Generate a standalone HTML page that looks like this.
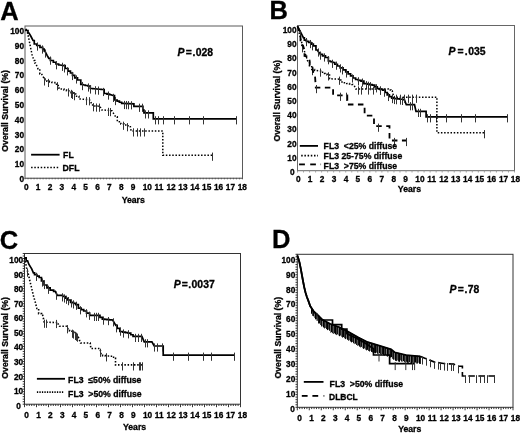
<!DOCTYPE html>
<html><head><meta charset="utf-8"><style>
html,body{margin:0;padding:0;background:#fff;overflow:hidden;}
svg{display:block;font-family:"Liberation Sans", sans-serif;filter:blur(0.3px);}
text{stroke:#000;stroke-width:0.3px;}
</style></head><body>
<svg width="520" height="433" viewBox="0 0 520 433" fill="#000">
<rect width="520" height="433" fill="#fff"/>
<text x="0.20" y="19.50" font-size="25.5" text-anchor="start" font-weight="bold" font-style="normal" >A</text>
<rect x="25" y="26" width="217.5" height="152.3" fill="none" stroke="#5a5a5a" stroke-width="1"/>
<text x="24.00" y="181.92" font-size="8.3" text-anchor="end" font-weight="bold" font-style="normal" >0</text>
<text x="24.00" y="167.12" font-size="8.3" text-anchor="end" font-weight="bold" font-style="normal" >10</text>
<text x="24.00" y="152.32" font-size="8.3" text-anchor="end" font-weight="bold" font-style="normal" >20</text>
<text x="24.00" y="137.52" font-size="8.3" text-anchor="end" font-weight="bold" font-style="normal" >30</text>
<text x="24.00" y="122.72" font-size="8.3" text-anchor="end" font-weight="bold" font-style="normal" >40</text>
<text x="24.00" y="107.92" font-size="8.3" text-anchor="end" font-weight="bold" font-style="normal" >50</text>
<text x="24.00" y="93.12" font-size="8.3" text-anchor="end" font-weight="bold" font-style="normal" >60</text>
<text x="24.00" y="78.32" font-size="8.3" text-anchor="end" font-weight="bold" font-style="normal" >70</text>
<text x="24.00" y="63.52" font-size="8.3" text-anchor="end" font-weight="bold" font-style="normal" >80</text>
<text x="24.00" y="48.72" font-size="8.3" text-anchor="end" font-weight="bold" font-style="normal" >90</text>
<text x="24.00" y="33.92" font-size="8.3" text-anchor="end" font-weight="bold" font-style="normal" >100</text>
<text x="23.90" y="189.82" font-size="8.3" text-anchor="start" font-weight="bold" font-style="normal" >0</text>
<text x="35.78" y="189.82" font-size="8.3" text-anchor="start" font-weight="bold" font-style="normal" >1</text>
<text x="47.66" y="189.82" font-size="8.3" text-anchor="start" font-weight="bold" font-style="normal" >2</text>
<text x="59.54" y="189.82" font-size="8.3" text-anchor="start" font-weight="bold" font-style="normal" >3</text>
<text x="71.42" y="189.82" font-size="8.3" text-anchor="start" font-weight="bold" font-style="normal" >4</text>
<text x="83.30" y="189.82" font-size="8.3" text-anchor="start" font-weight="bold" font-style="normal" >5</text>
<text x="95.18" y="189.82" font-size="8.3" text-anchor="start" font-weight="bold" font-style="normal" >6</text>
<text x="107.06" y="189.82" font-size="8.3" text-anchor="start" font-weight="bold" font-style="normal" >7</text>
<text x="118.94" y="189.82" font-size="8.3" text-anchor="start" font-weight="bold" font-style="normal" >8</text>
<text x="130.82" y="189.82" font-size="8.3" text-anchor="start" font-weight="bold" font-style="normal" >9</text>
<text x="142.70" y="189.82" font-size="8.3" text-anchor="start" font-weight="bold" font-style="normal" >10</text>
<text x="154.58" y="189.82" font-size="8.3" text-anchor="start" font-weight="bold" font-style="normal" >11</text>
<text x="166.46" y="189.82" font-size="8.3" text-anchor="start" font-weight="bold" font-style="normal" >12</text>
<text x="178.34" y="189.82" font-size="8.3" text-anchor="start" font-weight="bold" font-style="normal" >13</text>
<text x="190.22" y="189.82" font-size="8.3" text-anchor="start" font-weight="bold" font-style="normal" >14</text>
<text x="202.10" y="189.82" font-size="8.3" text-anchor="start" font-weight="bold" font-style="normal" >15</text>
<text x="213.98" y="189.82" font-size="8.3" text-anchor="start" font-weight="bold" font-style="normal" >16</text>
<text x="225.86" y="189.82" font-size="8.3" text-anchor="start" font-weight="bold" font-style="normal" >17</text>
<text x="237.74" y="189.82" font-size="8.3" text-anchor="start" font-weight="bold" font-style="normal" >18</text>
<line x1="25.00" y1="178.30" x2="242.50" y2="178.30" stroke="#777" stroke-width="1.0" />
<line x1="25.00" y1="177.90" x2="25.00" y2="179.30" stroke="#555" stroke-width="1.0" />
<line x1="28.02" y1="177.90" x2="28.02" y2="179.30" stroke="#555" stroke-width="1.0" />
<line x1="31.04" y1="177.90" x2="31.04" y2="179.30" stroke="#555" stroke-width="1.0" />
<line x1="34.06" y1="177.90" x2="34.06" y2="179.30" stroke="#555" stroke-width="1.0" />
<line x1="37.08" y1="177.90" x2="37.08" y2="179.30" stroke="#555" stroke-width="1.0" />
<line x1="40.10" y1="177.90" x2="40.10" y2="179.30" stroke="#555" stroke-width="1.0" />
<line x1="43.12" y1="177.90" x2="43.12" y2="179.30" stroke="#555" stroke-width="1.0" />
<line x1="46.15" y1="177.90" x2="46.15" y2="179.30" stroke="#555" stroke-width="1.0" />
<line x1="49.17" y1="177.90" x2="49.17" y2="179.30" stroke="#555" stroke-width="1.0" />
<line x1="52.19" y1="177.90" x2="52.19" y2="179.30" stroke="#555" stroke-width="1.0" />
<line x1="55.21" y1="177.90" x2="55.21" y2="179.30" stroke="#555" stroke-width="1.0" />
<line x1="58.23" y1="177.90" x2="58.23" y2="179.30" stroke="#555" stroke-width="1.0" />
<line x1="61.25" y1="177.90" x2="61.25" y2="179.30" stroke="#555" stroke-width="1.0" />
<line x1="64.27" y1="177.90" x2="64.27" y2="179.30" stroke="#555" stroke-width="1.0" />
<line x1="67.29" y1="177.90" x2="67.29" y2="179.30" stroke="#555" stroke-width="1.0" />
<line x1="70.31" y1="177.90" x2="70.31" y2="179.30" stroke="#555" stroke-width="1.0" />
<line x1="73.33" y1="177.90" x2="73.33" y2="179.30" stroke="#555" stroke-width="1.0" />
<line x1="76.35" y1="177.90" x2="76.35" y2="179.30" stroke="#555" stroke-width="1.0" />
<line x1="79.38" y1="177.90" x2="79.38" y2="179.30" stroke="#555" stroke-width="1.0" />
<line x1="82.40" y1="177.90" x2="82.40" y2="179.30" stroke="#555" stroke-width="1.0" />
<line x1="85.42" y1="177.90" x2="85.42" y2="179.30" stroke="#555" stroke-width="1.0" />
<line x1="88.44" y1="177.90" x2="88.44" y2="179.30" stroke="#555" stroke-width="1.0" />
<line x1="91.46" y1="177.90" x2="91.46" y2="179.30" stroke="#555" stroke-width="1.0" />
<line x1="94.48" y1="177.90" x2="94.48" y2="179.30" stroke="#555" stroke-width="1.0" />
<line x1="97.50" y1="177.90" x2="97.50" y2="179.30" stroke="#555" stroke-width="1.0" />
<line x1="100.52" y1="177.90" x2="100.52" y2="179.30" stroke="#555" stroke-width="1.0" />
<line x1="103.54" y1="177.90" x2="103.54" y2="179.30" stroke="#555" stroke-width="1.0" />
<line x1="106.56" y1="177.90" x2="106.56" y2="179.30" stroke="#555" stroke-width="1.0" />
<line x1="109.58" y1="177.90" x2="109.58" y2="179.30" stroke="#555" stroke-width="1.0" />
<line x1="112.60" y1="177.90" x2="112.60" y2="179.30" stroke="#555" stroke-width="1.0" />
<line x1="115.62" y1="177.90" x2="115.62" y2="179.30" stroke="#555" stroke-width="1.0" />
<line x1="118.65" y1="177.90" x2="118.65" y2="179.30" stroke="#555" stroke-width="1.0" />
<line x1="121.67" y1="177.90" x2="121.67" y2="179.30" stroke="#555" stroke-width="1.0" />
<line x1="124.69" y1="177.90" x2="124.69" y2="179.30" stroke="#555" stroke-width="1.0" />
<line x1="127.71" y1="177.90" x2="127.71" y2="179.30" stroke="#555" stroke-width="1.0" />
<line x1="130.73" y1="177.90" x2="130.73" y2="179.30" stroke="#555" stroke-width="1.0" />
<line x1="133.75" y1="177.90" x2="133.75" y2="179.30" stroke="#555" stroke-width="1.0" />
<line x1="136.77" y1="177.90" x2="136.77" y2="179.30" stroke="#555" stroke-width="1.0" />
<line x1="139.79" y1="177.90" x2="139.79" y2="179.30" stroke="#555" stroke-width="1.0" />
<line x1="142.81" y1="177.90" x2="142.81" y2="179.30" stroke="#555" stroke-width="1.0" />
<line x1="145.83" y1="177.90" x2="145.83" y2="179.30" stroke="#555" stroke-width="1.0" />
<line x1="148.85" y1="177.90" x2="148.85" y2="179.30" stroke="#555" stroke-width="1.0" />
<line x1="151.88" y1="177.90" x2="151.88" y2="179.30" stroke="#555" stroke-width="1.0" />
<line x1="154.90" y1="177.90" x2="154.90" y2="179.30" stroke="#555" stroke-width="1.0" />
<line x1="157.92" y1="177.90" x2="157.92" y2="179.30" stroke="#555" stroke-width="1.0" />
<line x1="160.94" y1="177.90" x2="160.94" y2="179.30" stroke="#555" stroke-width="1.0" />
<line x1="163.96" y1="177.90" x2="163.96" y2="179.30" stroke="#555" stroke-width="1.0" />
<line x1="166.98" y1="177.90" x2="166.98" y2="179.30" stroke="#555" stroke-width="1.0" />
<line x1="170.00" y1="177.90" x2="170.00" y2="179.30" stroke="#555" stroke-width="1.0" />
<line x1="173.02" y1="177.90" x2="173.02" y2="179.30" stroke="#555" stroke-width="1.0" />
<line x1="176.04" y1="177.90" x2="176.04" y2="179.30" stroke="#555" stroke-width="1.0" />
<line x1="179.06" y1="177.90" x2="179.06" y2="179.30" stroke="#555" stroke-width="1.0" />
<line x1="182.08" y1="177.90" x2="182.08" y2="179.30" stroke="#555" stroke-width="1.0" />
<line x1="185.10" y1="177.90" x2="185.10" y2="179.30" stroke="#555" stroke-width="1.0" />
<line x1="188.12" y1="177.90" x2="188.12" y2="179.30" stroke="#555" stroke-width="1.0" />
<line x1="191.15" y1="177.90" x2="191.15" y2="179.30" stroke="#555" stroke-width="1.0" />
<line x1="194.17" y1="177.90" x2="194.17" y2="179.30" stroke="#555" stroke-width="1.0" />
<line x1="197.19" y1="177.90" x2="197.19" y2="179.30" stroke="#555" stroke-width="1.0" />
<line x1="200.21" y1="177.90" x2="200.21" y2="179.30" stroke="#555" stroke-width="1.0" />
<line x1="203.23" y1="177.90" x2="203.23" y2="179.30" stroke="#555" stroke-width="1.0" />
<line x1="206.25" y1="177.90" x2="206.25" y2="179.30" stroke="#555" stroke-width="1.0" />
<line x1="209.27" y1="177.90" x2="209.27" y2="179.30" stroke="#555" stroke-width="1.0" />
<line x1="212.29" y1="177.90" x2="212.29" y2="179.30" stroke="#555" stroke-width="1.0" />
<line x1="215.31" y1="177.90" x2="215.31" y2="179.30" stroke="#555" stroke-width="1.0" />
<line x1="218.33" y1="177.90" x2="218.33" y2="179.30" stroke="#555" stroke-width="1.0" />
<line x1="221.35" y1="177.90" x2="221.35" y2="179.30" stroke="#555" stroke-width="1.0" />
<line x1="224.38" y1="177.90" x2="224.38" y2="179.30" stroke="#555" stroke-width="1.0" />
<line x1="227.40" y1="177.90" x2="227.40" y2="179.30" stroke="#555" stroke-width="1.0" />
<line x1="230.42" y1="177.90" x2="230.42" y2="179.30" stroke="#555" stroke-width="1.0" />
<line x1="233.44" y1="177.90" x2="233.44" y2="179.30" stroke="#555" stroke-width="1.0" />
<line x1="236.46" y1="177.90" x2="236.46" y2="179.30" stroke="#555" stroke-width="1.0" />
<line x1="239.48" y1="177.90" x2="239.48" y2="179.30" stroke="#555" stroke-width="1.0" />
<line x1="242.50" y1="177.90" x2="242.50" y2="179.30" stroke="#555" stroke-width="1.0" />
<text x="121.63" y="203.20" font-size="8.7" text-anchor="start" font-weight="bold" font-style="normal" >Years</text>
<text x="0" y="0" font-size="8.7" font-weight="bold" text-anchor="middle" transform="translate(8.00,110.90) rotate(-90)">Overall Survival (%)</text>
<text x="177.60" y="55.90" font-size="10.4" font-weight="bold"><tspan font-style="italic">P</tspan><tspan dx="1.3">=</tspan><tspan dx="0.5">.</tspan><tspan dx="0.5">028</tspan></text>
<text x="269.50" y="19.20" font-size="25.5" text-anchor="start" font-weight="bold" font-style="normal" >B</text>
<rect x="297.5" y="25.5" width="217.0" height="145.2" fill="none" stroke="#666" stroke-width="1"/>
<text x="294.50" y="175.12" font-size="8.3" text-anchor="end" font-weight="bold" font-style="normal" >0</text>
<text x="296.60" y="160.91" font-size="8.3" text-anchor="end" font-weight="bold" font-style="normal" >10</text>
<text x="296.60" y="146.70" font-size="8.3" text-anchor="end" font-weight="bold" font-style="normal" >20</text>
<text x="296.60" y="132.49" font-size="8.3" text-anchor="end" font-weight="bold" font-style="normal" >30</text>
<text x="296.60" y="118.28" font-size="8.3" text-anchor="end" font-weight="bold" font-style="normal" >40</text>
<text x="296.60" y="104.07" font-size="8.3" text-anchor="end" font-weight="bold" font-style="normal" >50</text>
<text x="296.60" y="89.86" font-size="8.3" text-anchor="end" font-weight="bold" font-style="normal" >60</text>
<text x="296.60" y="75.65" font-size="8.3" text-anchor="end" font-weight="bold" font-style="normal" >70</text>
<text x="296.60" y="61.44" font-size="8.3" text-anchor="end" font-weight="bold" font-style="normal" >80</text>
<text x="296.60" y="47.23" font-size="8.3" text-anchor="end" font-weight="bold" font-style="normal" >90</text>
<text x="296.60" y="33.02" font-size="8.3" text-anchor="end" font-weight="bold" font-style="normal" >100</text>
<text x="295.90" y="182.32" font-size="8.3" text-anchor="start" font-weight="bold" font-style="normal" >0</text>
<text x="307.84" y="182.32" font-size="8.3" text-anchor="start" font-weight="bold" font-style="normal" >1</text>
<text x="319.78" y="182.32" font-size="8.3" text-anchor="start" font-weight="bold" font-style="normal" >2</text>
<text x="331.72" y="182.32" font-size="8.3" text-anchor="start" font-weight="bold" font-style="normal" >3</text>
<text x="343.66" y="182.32" font-size="8.3" text-anchor="start" font-weight="bold" font-style="normal" >4</text>
<text x="355.60" y="182.32" font-size="8.3" text-anchor="start" font-weight="bold" font-style="normal" >5</text>
<text x="367.54" y="182.32" font-size="8.3" text-anchor="start" font-weight="bold" font-style="normal" >6</text>
<text x="379.48" y="182.32" font-size="8.3" text-anchor="start" font-weight="bold" font-style="normal" >7</text>
<text x="391.42" y="182.32" font-size="8.3" text-anchor="start" font-weight="bold" font-style="normal" >8</text>
<text x="403.36" y="182.32" font-size="8.3" text-anchor="start" font-weight="bold" font-style="normal" >9</text>
<text x="415.30" y="182.32" font-size="8.3" text-anchor="start" font-weight="bold" font-style="normal" >10</text>
<text x="427.24" y="182.32" font-size="8.3" text-anchor="start" font-weight="bold" font-style="normal" >11</text>
<text x="439.18" y="182.32" font-size="8.3" text-anchor="start" font-weight="bold" font-style="normal" >12</text>
<text x="451.12" y="182.32" font-size="8.3" text-anchor="start" font-weight="bold" font-style="normal" >13</text>
<text x="463.06" y="182.32" font-size="8.3" text-anchor="start" font-weight="bold" font-style="normal" >14</text>
<text x="475.00" y="182.32" font-size="8.3" text-anchor="start" font-weight="bold" font-style="normal" >15</text>
<text x="486.94" y="182.32" font-size="8.3" text-anchor="start" font-weight="bold" font-style="normal" >16</text>
<text x="498.88" y="182.32" font-size="8.3" text-anchor="start" font-weight="bold" font-style="normal" >17</text>
<text x="510.82" y="182.32" font-size="8.3" text-anchor="start" font-weight="bold" font-style="normal" >18</text>
<line x1="297.50" y1="170.70" x2="297.50" y2="172.50" stroke="#999" stroke-width="0.9" />
<line x1="303.53" y1="170.70" x2="303.53" y2="172.50" stroke="#999" stroke-width="0.9" />
<line x1="309.56" y1="170.70" x2="309.56" y2="172.50" stroke="#999" stroke-width="0.9" />
<line x1="315.58" y1="170.70" x2="315.58" y2="172.50" stroke="#999" stroke-width="0.9" />
<line x1="321.61" y1="170.70" x2="321.61" y2="172.50" stroke="#999" stroke-width="0.9" />
<line x1="327.64" y1="170.70" x2="327.64" y2="172.50" stroke="#999" stroke-width="0.9" />
<line x1="333.67" y1="170.70" x2="333.67" y2="172.50" stroke="#999" stroke-width="0.9" />
<line x1="339.69" y1="170.70" x2="339.69" y2="172.50" stroke="#999" stroke-width="0.9" />
<line x1="345.72" y1="170.70" x2="345.72" y2="172.50" stroke="#999" stroke-width="0.9" />
<line x1="351.75" y1="170.70" x2="351.75" y2="172.50" stroke="#999" stroke-width="0.9" />
<line x1="357.78" y1="170.70" x2="357.78" y2="172.50" stroke="#999" stroke-width="0.9" />
<line x1="363.81" y1="170.70" x2="363.81" y2="172.50" stroke="#999" stroke-width="0.9" />
<line x1="369.83" y1="170.70" x2="369.83" y2="172.50" stroke="#999" stroke-width="0.9" />
<line x1="375.86" y1="170.70" x2="375.86" y2="172.50" stroke="#999" stroke-width="0.9" />
<line x1="381.89" y1="170.70" x2="381.89" y2="172.50" stroke="#999" stroke-width="0.9" />
<line x1="387.92" y1="170.70" x2="387.92" y2="172.50" stroke="#999" stroke-width="0.9" />
<line x1="393.94" y1="170.70" x2="393.94" y2="172.50" stroke="#999" stroke-width="0.9" />
<line x1="399.97" y1="170.70" x2="399.97" y2="172.50" stroke="#999" stroke-width="0.9" />
<line x1="406.00" y1="170.70" x2="406.00" y2="172.50" stroke="#999" stroke-width="0.9" />
<line x1="412.03" y1="170.70" x2="412.03" y2="172.50" stroke="#999" stroke-width="0.9" />
<line x1="418.06" y1="170.70" x2="418.06" y2="172.50" stroke="#999" stroke-width="0.9" />
<line x1="424.08" y1="170.70" x2="424.08" y2="172.50" stroke="#999" stroke-width="0.9" />
<line x1="430.11" y1="170.70" x2="430.11" y2="172.50" stroke="#999" stroke-width="0.9" />
<line x1="436.14" y1="170.70" x2="436.14" y2="172.50" stroke="#999" stroke-width="0.9" />
<line x1="442.17" y1="170.70" x2="442.17" y2="172.50" stroke="#999" stroke-width="0.9" />
<line x1="448.19" y1="170.70" x2="448.19" y2="172.50" stroke="#999" stroke-width="0.9" />
<line x1="454.22" y1="170.70" x2="454.22" y2="172.50" stroke="#999" stroke-width="0.9" />
<line x1="460.25" y1="170.70" x2="460.25" y2="172.50" stroke="#999" stroke-width="0.9" />
<line x1="466.28" y1="170.70" x2="466.28" y2="172.50" stroke="#999" stroke-width="0.9" />
<line x1="472.31" y1="170.70" x2="472.31" y2="172.50" stroke="#999" stroke-width="0.9" />
<line x1="478.33" y1="170.70" x2="478.33" y2="172.50" stroke="#999" stroke-width="0.9" />
<line x1="484.36" y1="170.70" x2="484.36" y2="172.50" stroke="#999" stroke-width="0.9" />
<line x1="490.39" y1="170.70" x2="490.39" y2="172.50" stroke="#999" stroke-width="0.9" />
<line x1="496.42" y1="170.70" x2="496.42" y2="172.50" stroke="#999" stroke-width="0.9" />
<line x1="502.44" y1="170.70" x2="502.44" y2="172.50" stroke="#999" stroke-width="0.9" />
<line x1="508.47" y1="170.70" x2="508.47" y2="172.50" stroke="#999" stroke-width="0.9" />
<line x1="514.50" y1="170.70" x2="514.50" y2="172.50" stroke="#999" stroke-width="0.9" />
<text x="397.83" y="191.90" font-size="8.7" text-anchor="start" font-weight="bold" font-style="normal" >Years</text>
<text x="0" y="0" font-size="8.7" font-weight="bold" text-anchor="middle" transform="translate(280.10,100.80) rotate(-90)">Overall Survival (%)</text>
<text x="448.60" y="54.60" font-size="10.4" font-weight="bold"><tspan font-style="italic">P</tspan><tspan dx="1.9">=</tspan><tspan dx="1.3">.</tspan><tspan dx="0.5">035</tspan></text>
<text x="-0.20" y="248.50" font-size="25.5" text-anchor="start" font-weight="bold" font-style="normal" >C</text>
<rect x="24.5" y="253.5" width="216.0" height="150.7" fill="none" stroke="#333" stroke-width="1"/>
<text x="20.90" y="408.72" font-size="8.3" text-anchor="end" font-weight="bold" font-style="normal" >0</text>
<text x="23.20" y="394.15" font-size="8.3" text-anchor="end" font-weight="bold" font-style="normal" >10</text>
<text x="23.20" y="379.58" font-size="8.3" text-anchor="end" font-weight="bold" font-style="normal" >20</text>
<text x="23.20" y="365.01" font-size="8.3" text-anchor="end" font-weight="bold" font-style="normal" >30</text>
<text x="23.20" y="350.44" font-size="8.3" text-anchor="end" font-weight="bold" font-style="normal" >40</text>
<text x="23.20" y="335.87" font-size="8.3" text-anchor="end" font-weight="bold" font-style="normal" >50</text>
<text x="23.20" y="321.30" font-size="8.3" text-anchor="end" font-weight="bold" font-style="normal" >60</text>
<text x="23.20" y="306.73" font-size="8.3" text-anchor="end" font-weight="bold" font-style="normal" >70</text>
<text x="23.20" y="292.16" font-size="8.3" text-anchor="end" font-weight="bold" font-style="normal" >80</text>
<text x="23.20" y="277.59" font-size="8.3" text-anchor="end" font-weight="bold" font-style="normal" >90</text>
<text x="23.20" y="263.02" font-size="8.3" text-anchor="end" font-weight="bold" font-style="normal" >100</text>
<text x="24.30" y="417.82" font-size="8.3" text-anchor="start" font-weight="bold" font-style="normal" >0</text>
<text x="36.16" y="417.82" font-size="8.3" text-anchor="start" font-weight="bold" font-style="normal" >1</text>
<text x="48.02" y="417.82" font-size="8.3" text-anchor="start" font-weight="bold" font-style="normal" >2</text>
<text x="59.88" y="417.82" font-size="8.3" text-anchor="start" font-weight="bold" font-style="normal" >3</text>
<text x="71.74" y="417.82" font-size="8.3" text-anchor="start" font-weight="bold" font-style="normal" >4</text>
<text x="83.60" y="417.82" font-size="8.3" text-anchor="start" font-weight="bold" font-style="normal" >5</text>
<text x="95.46" y="417.82" font-size="8.3" text-anchor="start" font-weight="bold" font-style="normal" >6</text>
<text x="107.32" y="417.82" font-size="8.3" text-anchor="start" font-weight="bold" font-style="normal" >7</text>
<text x="119.18" y="417.82" font-size="8.3" text-anchor="start" font-weight="bold" font-style="normal" >8</text>
<text x="131.04" y="417.82" font-size="8.3" text-anchor="start" font-weight="bold" font-style="normal" >9</text>
<text x="142.90" y="417.82" font-size="8.3" text-anchor="start" font-weight="bold" font-style="normal" >10</text>
<text x="154.76" y="417.82" font-size="8.3" text-anchor="start" font-weight="bold" font-style="normal" >11</text>
<text x="166.62" y="417.82" font-size="8.3" text-anchor="start" font-weight="bold" font-style="normal" >12</text>
<text x="178.48" y="417.82" font-size="8.3" text-anchor="start" font-weight="bold" font-style="normal" >13</text>
<text x="190.34" y="417.82" font-size="8.3" text-anchor="start" font-weight="bold" font-style="normal" >14</text>
<text x="202.20" y="417.82" font-size="8.3" text-anchor="start" font-weight="bold" font-style="normal" >15</text>
<text x="214.06" y="417.82" font-size="8.3" text-anchor="start" font-weight="bold" font-style="normal" >16</text>
<text x="225.92" y="417.82" font-size="8.3" text-anchor="start" font-weight="bold" font-style="normal" >17</text>
<text x="237.78" y="417.82" font-size="8.3" text-anchor="start" font-weight="bold" font-style="normal" >18</text>
<line x1="24.50" y1="404.20" x2="24.50" y2="407.20" stroke="#222" stroke-width="0.9" />
<line x1="26.90" y1="404.20" x2="26.90" y2="406.00" stroke="#222" stroke-width="0.9" />
<line x1="29.30" y1="404.20" x2="29.30" y2="406.00" stroke="#222" stroke-width="0.9" />
<line x1="31.70" y1="404.20" x2="31.70" y2="406.00" stroke="#222" stroke-width="0.9" />
<line x1="34.10" y1="404.20" x2="34.10" y2="406.00" stroke="#222" stroke-width="0.9" />
<line x1="36.50" y1="404.20" x2="36.50" y2="407.20" stroke="#222" stroke-width="0.9" />
<line x1="38.90" y1="404.20" x2="38.90" y2="406.00" stroke="#222" stroke-width="0.9" />
<line x1="41.30" y1="404.20" x2="41.30" y2="406.00" stroke="#222" stroke-width="0.9" />
<line x1="43.70" y1="404.20" x2="43.70" y2="406.00" stroke="#222" stroke-width="0.9" />
<line x1="46.10" y1="404.20" x2="46.10" y2="406.00" stroke="#222" stroke-width="0.9" />
<line x1="48.50" y1="404.20" x2="48.50" y2="407.20" stroke="#222" stroke-width="0.9" />
<line x1="50.90" y1="404.20" x2="50.90" y2="406.00" stroke="#222" stroke-width="0.9" />
<line x1="53.30" y1="404.20" x2="53.30" y2="406.00" stroke="#222" stroke-width="0.9" />
<line x1="55.70" y1="404.20" x2="55.70" y2="406.00" stroke="#222" stroke-width="0.9" />
<line x1="58.10" y1="404.20" x2="58.10" y2="406.00" stroke="#222" stroke-width="0.9" />
<line x1="60.50" y1="404.20" x2="60.50" y2="407.20" stroke="#222" stroke-width="0.9" />
<line x1="62.90" y1="404.20" x2="62.90" y2="406.00" stroke="#222" stroke-width="0.9" />
<line x1="65.30" y1="404.20" x2="65.30" y2="406.00" stroke="#222" stroke-width="0.9" />
<line x1="67.70" y1="404.20" x2="67.70" y2="406.00" stroke="#222" stroke-width="0.9" />
<line x1="70.10" y1="404.20" x2="70.10" y2="406.00" stroke="#222" stroke-width="0.9" />
<line x1="72.50" y1="404.20" x2="72.50" y2="407.20" stroke="#222" stroke-width="0.9" />
<line x1="74.90" y1="404.20" x2="74.90" y2="406.00" stroke="#222" stroke-width="0.9" />
<line x1="77.30" y1="404.20" x2="77.30" y2="406.00" stroke="#222" stroke-width="0.9" />
<line x1="79.70" y1="404.20" x2="79.70" y2="406.00" stroke="#222" stroke-width="0.9" />
<line x1="82.10" y1="404.20" x2="82.10" y2="406.00" stroke="#222" stroke-width="0.9" />
<line x1="84.50" y1="404.20" x2="84.50" y2="407.20" stroke="#222" stroke-width="0.9" />
<line x1="86.90" y1="404.20" x2="86.90" y2="406.00" stroke="#222" stroke-width="0.9" />
<line x1="89.30" y1="404.20" x2="89.30" y2="406.00" stroke="#222" stroke-width="0.9" />
<line x1="91.70" y1="404.20" x2="91.70" y2="406.00" stroke="#222" stroke-width="0.9" />
<line x1="94.10" y1="404.20" x2="94.10" y2="406.00" stroke="#222" stroke-width="0.9" />
<line x1="96.50" y1="404.20" x2="96.50" y2="407.20" stroke="#222" stroke-width="0.9" />
<line x1="98.90" y1="404.20" x2="98.90" y2="406.00" stroke="#222" stroke-width="0.9" />
<line x1="101.30" y1="404.20" x2="101.30" y2="406.00" stroke="#222" stroke-width="0.9" />
<line x1="103.70" y1="404.20" x2="103.70" y2="406.00" stroke="#222" stroke-width="0.9" />
<line x1="106.10" y1="404.20" x2="106.10" y2="406.00" stroke="#222" stroke-width="0.9" />
<line x1="108.50" y1="404.20" x2="108.50" y2="407.20" stroke="#222" stroke-width="0.9" />
<line x1="110.90" y1="404.20" x2="110.90" y2="406.00" stroke="#222" stroke-width="0.9" />
<line x1="113.30" y1="404.20" x2="113.30" y2="406.00" stroke="#222" stroke-width="0.9" />
<line x1="115.70" y1="404.20" x2="115.70" y2="406.00" stroke="#222" stroke-width="0.9" />
<line x1="118.10" y1="404.20" x2="118.10" y2="406.00" stroke="#222" stroke-width="0.9" />
<line x1="120.50" y1="404.20" x2="120.50" y2="407.20" stroke="#222" stroke-width="0.9" />
<line x1="122.90" y1="404.20" x2="122.90" y2="406.00" stroke="#222" stroke-width="0.9" />
<line x1="125.30" y1="404.20" x2="125.30" y2="406.00" stroke="#222" stroke-width="0.9" />
<line x1="127.70" y1="404.20" x2="127.70" y2="406.00" stroke="#222" stroke-width="0.9" />
<line x1="130.10" y1="404.20" x2="130.10" y2="406.00" stroke="#222" stroke-width="0.9" />
<line x1="132.50" y1="404.20" x2="132.50" y2="407.20" stroke="#222" stroke-width="0.9" />
<line x1="134.90" y1="404.20" x2="134.90" y2="406.00" stroke="#222" stroke-width="0.9" />
<line x1="137.30" y1="404.20" x2="137.30" y2="406.00" stroke="#222" stroke-width="0.9" />
<line x1="139.70" y1="404.20" x2="139.70" y2="406.00" stroke="#222" stroke-width="0.9" />
<line x1="142.10" y1="404.20" x2="142.10" y2="406.00" stroke="#222" stroke-width="0.9" />
<line x1="144.50" y1="404.20" x2="144.50" y2="407.20" stroke="#222" stroke-width="0.9" />
<line x1="146.90" y1="404.20" x2="146.90" y2="406.00" stroke="#222" stroke-width="0.9" />
<line x1="149.30" y1="404.20" x2="149.30" y2="406.00" stroke="#222" stroke-width="0.9" />
<line x1="151.70" y1="404.20" x2="151.70" y2="406.00" stroke="#222" stroke-width="0.9" />
<line x1="154.10" y1="404.20" x2="154.10" y2="406.00" stroke="#222" stroke-width="0.9" />
<line x1="156.50" y1="404.20" x2="156.50" y2="407.20" stroke="#222" stroke-width="0.9" />
<line x1="158.90" y1="404.20" x2="158.90" y2="406.00" stroke="#222" stroke-width="0.9" />
<line x1="161.30" y1="404.20" x2="161.30" y2="406.00" stroke="#222" stroke-width="0.9" />
<line x1="163.70" y1="404.20" x2="163.70" y2="406.00" stroke="#222" stroke-width="0.9" />
<line x1="166.10" y1="404.20" x2="166.10" y2="406.00" stroke="#222" stroke-width="0.9" />
<line x1="168.50" y1="404.20" x2="168.50" y2="407.20" stroke="#222" stroke-width="0.9" />
<line x1="170.90" y1="404.20" x2="170.90" y2="406.00" stroke="#222" stroke-width="0.9" />
<line x1="173.30" y1="404.20" x2="173.30" y2="406.00" stroke="#222" stroke-width="0.9" />
<line x1="175.70" y1="404.20" x2="175.70" y2="406.00" stroke="#222" stroke-width="0.9" />
<line x1="178.10" y1="404.20" x2="178.10" y2="406.00" stroke="#222" stroke-width="0.9" />
<line x1="180.50" y1="404.20" x2="180.50" y2="407.20" stroke="#222" stroke-width="0.9" />
<line x1="182.90" y1="404.20" x2="182.90" y2="406.00" stroke="#222" stroke-width="0.9" />
<line x1="185.30" y1="404.20" x2="185.30" y2="406.00" stroke="#222" stroke-width="0.9" />
<line x1="187.70" y1="404.20" x2="187.70" y2="406.00" stroke="#222" stroke-width="0.9" />
<line x1="190.10" y1="404.20" x2="190.10" y2="406.00" stroke="#222" stroke-width="0.9" />
<line x1="192.50" y1="404.20" x2="192.50" y2="407.20" stroke="#222" stroke-width="0.9" />
<line x1="194.90" y1="404.20" x2="194.90" y2="406.00" stroke="#222" stroke-width="0.9" />
<line x1="197.30" y1="404.20" x2="197.30" y2="406.00" stroke="#222" stroke-width="0.9" />
<line x1="199.70" y1="404.20" x2="199.70" y2="406.00" stroke="#222" stroke-width="0.9" />
<line x1="202.10" y1="404.20" x2="202.10" y2="406.00" stroke="#222" stroke-width="0.9" />
<line x1="204.50" y1="404.20" x2="204.50" y2="407.20" stroke="#222" stroke-width="0.9" />
<line x1="206.90" y1="404.20" x2="206.90" y2="406.00" stroke="#222" stroke-width="0.9" />
<line x1="209.30" y1="404.20" x2="209.30" y2="406.00" stroke="#222" stroke-width="0.9" />
<line x1="211.70" y1="404.20" x2="211.70" y2="406.00" stroke="#222" stroke-width="0.9" />
<line x1="214.10" y1="404.20" x2="214.10" y2="406.00" stroke="#222" stroke-width="0.9" />
<line x1="216.50" y1="404.20" x2="216.50" y2="407.20" stroke="#222" stroke-width="0.9" />
<line x1="218.90" y1="404.20" x2="218.90" y2="406.00" stroke="#222" stroke-width="0.9" />
<line x1="221.30" y1="404.20" x2="221.30" y2="406.00" stroke="#222" stroke-width="0.9" />
<line x1="223.70" y1="404.20" x2="223.70" y2="406.00" stroke="#222" stroke-width="0.9" />
<line x1="226.10" y1="404.20" x2="226.10" y2="406.00" stroke="#222" stroke-width="0.9" />
<line x1="228.50" y1="404.20" x2="228.50" y2="407.20" stroke="#222" stroke-width="0.9" />
<line x1="230.90" y1="404.20" x2="230.90" y2="406.00" stroke="#222" stroke-width="0.9" />
<line x1="233.30" y1="404.20" x2="233.30" y2="406.00" stroke="#222" stroke-width="0.9" />
<line x1="235.70" y1="404.20" x2="235.70" y2="406.00" stroke="#222" stroke-width="0.9" />
<line x1="238.10" y1="404.20" x2="238.10" y2="406.00" stroke="#222" stroke-width="0.9" />
<line x1="240.50" y1="404.20" x2="240.50" y2="407.20" stroke="#222" stroke-width="0.9" />
<line x1="22.70" y1="253.50" x2="24.50" y2="253.50" stroke="#222" stroke-width="0.9" />
<line x1="22.70" y1="256.01" x2="24.50" y2="256.01" stroke="#222" stroke-width="0.9" />
<line x1="22.70" y1="258.52" x2="24.50" y2="258.52" stroke="#222" stroke-width="0.9" />
<line x1="22.70" y1="261.04" x2="24.50" y2="261.04" stroke="#222" stroke-width="0.9" />
<line x1="22.70" y1="263.55" x2="24.50" y2="263.55" stroke="#222" stroke-width="0.9" />
<line x1="22.70" y1="266.06" x2="24.50" y2="266.06" stroke="#222" stroke-width="0.9" />
<line x1="22.70" y1="268.57" x2="24.50" y2="268.57" stroke="#222" stroke-width="0.9" />
<line x1="22.70" y1="271.08" x2="24.50" y2="271.08" stroke="#222" stroke-width="0.9" />
<line x1="22.70" y1="273.59" x2="24.50" y2="273.59" stroke="#222" stroke-width="0.9" />
<line x1="22.70" y1="276.11" x2="24.50" y2="276.11" stroke="#222" stroke-width="0.9" />
<line x1="22.70" y1="278.62" x2="24.50" y2="278.62" stroke="#222" stroke-width="0.9" />
<line x1="22.70" y1="281.13" x2="24.50" y2="281.13" stroke="#222" stroke-width="0.9" />
<line x1="22.70" y1="283.64" x2="24.50" y2="283.64" stroke="#222" stroke-width="0.9" />
<line x1="22.70" y1="286.15" x2="24.50" y2="286.15" stroke="#222" stroke-width="0.9" />
<line x1="22.70" y1="288.66" x2="24.50" y2="288.66" stroke="#222" stroke-width="0.9" />
<line x1="22.70" y1="291.18" x2="24.50" y2="291.18" stroke="#222" stroke-width="0.9" />
<line x1="22.70" y1="293.69" x2="24.50" y2="293.69" stroke="#222" stroke-width="0.9" />
<line x1="22.70" y1="296.20" x2="24.50" y2="296.20" stroke="#222" stroke-width="0.9" />
<line x1="22.70" y1="298.71" x2="24.50" y2="298.71" stroke="#222" stroke-width="0.9" />
<line x1="22.70" y1="301.22" x2="24.50" y2="301.22" stroke="#222" stroke-width="0.9" />
<line x1="22.70" y1="303.73" x2="24.50" y2="303.73" stroke="#222" stroke-width="0.9" />
<line x1="22.70" y1="306.25" x2="24.50" y2="306.25" stroke="#222" stroke-width="0.9" />
<line x1="22.70" y1="308.76" x2="24.50" y2="308.76" stroke="#222" stroke-width="0.9" />
<line x1="22.70" y1="311.27" x2="24.50" y2="311.27" stroke="#222" stroke-width="0.9" />
<line x1="22.70" y1="313.78" x2="24.50" y2="313.78" stroke="#222" stroke-width="0.9" />
<line x1="22.70" y1="316.29" x2="24.50" y2="316.29" stroke="#222" stroke-width="0.9" />
<line x1="22.70" y1="318.80" x2="24.50" y2="318.80" stroke="#222" stroke-width="0.9" />
<line x1="22.70" y1="321.31" x2="24.50" y2="321.31" stroke="#222" stroke-width="0.9" />
<line x1="22.70" y1="323.83" x2="24.50" y2="323.83" stroke="#222" stroke-width="0.9" />
<line x1="22.70" y1="326.34" x2="24.50" y2="326.34" stroke="#222" stroke-width="0.9" />
<line x1="22.70" y1="328.85" x2="24.50" y2="328.85" stroke="#222" stroke-width="0.9" />
<line x1="22.70" y1="331.36" x2="24.50" y2="331.36" stroke="#222" stroke-width="0.9" />
<line x1="22.70" y1="333.87" x2="24.50" y2="333.87" stroke="#222" stroke-width="0.9" />
<line x1="22.70" y1="336.38" x2="24.50" y2="336.38" stroke="#222" stroke-width="0.9" />
<line x1="22.70" y1="338.90" x2="24.50" y2="338.90" stroke="#222" stroke-width="0.9" />
<line x1="22.70" y1="341.41" x2="24.50" y2="341.41" stroke="#222" stroke-width="0.9" />
<line x1="22.70" y1="343.92" x2="24.50" y2="343.92" stroke="#222" stroke-width="0.9" />
<line x1="22.70" y1="346.43" x2="24.50" y2="346.43" stroke="#222" stroke-width="0.9" />
<line x1="22.70" y1="348.94" x2="24.50" y2="348.94" stroke="#222" stroke-width="0.9" />
<line x1="22.70" y1="351.45" x2="24.50" y2="351.45" stroke="#222" stroke-width="0.9" />
<line x1="22.70" y1="353.97" x2="24.50" y2="353.97" stroke="#222" stroke-width="0.9" />
<line x1="22.70" y1="356.48" x2="24.50" y2="356.48" stroke="#222" stroke-width="0.9" />
<line x1="22.70" y1="358.99" x2="24.50" y2="358.99" stroke="#222" stroke-width="0.9" />
<line x1="22.70" y1="361.50" x2="24.50" y2="361.50" stroke="#222" stroke-width="0.9" />
<line x1="22.70" y1="364.01" x2="24.50" y2="364.01" stroke="#222" stroke-width="0.9" />
<line x1="22.70" y1="366.52" x2="24.50" y2="366.52" stroke="#222" stroke-width="0.9" />
<line x1="22.70" y1="369.04" x2="24.50" y2="369.04" stroke="#222" stroke-width="0.9" />
<line x1="22.70" y1="371.55" x2="24.50" y2="371.55" stroke="#222" stroke-width="0.9" />
<line x1="22.70" y1="374.06" x2="24.50" y2="374.06" stroke="#222" stroke-width="0.9" />
<line x1="22.70" y1="376.57" x2="24.50" y2="376.57" stroke="#222" stroke-width="0.9" />
<line x1="22.70" y1="379.08" x2="24.50" y2="379.08" stroke="#222" stroke-width="0.9" />
<line x1="22.70" y1="381.59" x2="24.50" y2="381.59" stroke="#222" stroke-width="0.9" />
<line x1="22.70" y1="384.11" x2="24.50" y2="384.11" stroke="#222" stroke-width="0.9" />
<line x1="22.70" y1="386.62" x2="24.50" y2="386.62" stroke="#222" stroke-width="0.9" />
<line x1="22.70" y1="389.13" x2="24.50" y2="389.13" stroke="#222" stroke-width="0.9" />
<line x1="22.70" y1="391.64" x2="24.50" y2="391.64" stroke="#222" stroke-width="0.9" />
<line x1="22.70" y1="394.15" x2="24.50" y2="394.15" stroke="#222" stroke-width="0.9" />
<line x1="22.70" y1="396.66" x2="24.50" y2="396.66" stroke="#222" stroke-width="0.9" />
<line x1="22.70" y1="399.18" x2="24.50" y2="399.18" stroke="#222" stroke-width="0.9" />
<line x1="22.70" y1="401.69" x2="24.50" y2="401.69" stroke="#222" stroke-width="0.9" />
<line x1="22.70" y1="404.20" x2="24.50" y2="404.20" stroke="#222" stroke-width="0.9" />
<text x="122.93" y="429.90" font-size="8.7" text-anchor="start" font-weight="bold" font-style="normal" >Years</text>
<text x="0" y="0" font-size="8.7" font-weight="bold" text-anchor="middle" transform="translate(7.70,337.90) rotate(-90)">Overall Survival (%)</text>
<text x="173.70" y="287.50" font-size="10.4" font-weight="bold"><tspan font-style="italic">P</tspan><tspan dx="1.2">=</tspan><tspan dx="0.4">.</tspan><tspan dx="0.4">0037</tspan></text>
<text x="272.10" y="248.30" font-size="25.5" text-anchor="start" font-weight="bold" font-style="normal" >D</text>
<rect x="297.3" y="254.3" width="215.7" height="153.0" fill="none" stroke="#333" stroke-width="1"/>
<text x="294.80" y="411.72" font-size="8.3" text-anchor="end" font-weight="bold" font-style="normal" >0</text>
<text x="295.30" y="396.83" font-size="8.3" text-anchor="end" font-weight="bold" font-style="normal" >10</text>
<text x="295.30" y="381.94" font-size="8.3" text-anchor="end" font-weight="bold" font-style="normal" >20</text>
<text x="295.30" y="367.05" font-size="8.3" text-anchor="end" font-weight="bold" font-style="normal" >30</text>
<text x="295.30" y="352.16" font-size="8.3" text-anchor="end" font-weight="bold" font-style="normal" >40</text>
<text x="295.30" y="337.27" font-size="8.3" text-anchor="end" font-weight="bold" font-style="normal" >50</text>
<text x="295.30" y="322.38" font-size="8.3" text-anchor="end" font-weight="bold" font-style="normal" >60</text>
<text x="295.30" y="307.49" font-size="8.3" text-anchor="end" font-weight="bold" font-style="normal" >70</text>
<text x="295.30" y="292.60" font-size="8.3" text-anchor="end" font-weight="bold" font-style="normal" >80</text>
<text x="295.30" y="277.71" font-size="8.3" text-anchor="end" font-weight="bold" font-style="normal" >90</text>
<text x="295.30" y="262.82" font-size="8.3" text-anchor="end" font-weight="bold" font-style="normal" >100</text>
<text x="297.30" y="420.82" font-size="8.3" text-anchor="start" font-weight="bold" font-style="normal" >0</text>
<text x="309.16" y="420.82" font-size="8.3" text-anchor="start" font-weight="bold" font-style="normal" >1</text>
<text x="321.02" y="420.82" font-size="8.3" text-anchor="start" font-weight="bold" font-style="normal" >2</text>
<text x="332.88" y="420.82" font-size="8.3" text-anchor="start" font-weight="bold" font-style="normal" >3</text>
<text x="344.74" y="420.82" font-size="8.3" text-anchor="start" font-weight="bold" font-style="normal" >4</text>
<text x="356.60" y="420.82" font-size="8.3" text-anchor="start" font-weight="bold" font-style="normal" >5</text>
<text x="368.46" y="420.82" font-size="8.3" text-anchor="start" font-weight="bold" font-style="normal" >6</text>
<text x="380.32" y="420.82" font-size="8.3" text-anchor="start" font-weight="bold" font-style="normal" >7</text>
<text x="392.18" y="420.82" font-size="8.3" text-anchor="start" font-weight="bold" font-style="normal" >8</text>
<text x="404.04" y="420.82" font-size="8.3" text-anchor="start" font-weight="bold" font-style="normal" >9</text>
<text x="415.90" y="420.82" font-size="8.3" text-anchor="start" font-weight="bold" font-style="normal" >10</text>
<text x="427.76" y="420.82" font-size="8.3" text-anchor="start" font-weight="bold" font-style="normal" >11</text>
<text x="439.62" y="420.82" font-size="8.3" text-anchor="start" font-weight="bold" font-style="normal" >12</text>
<text x="451.48" y="420.82" font-size="8.3" text-anchor="start" font-weight="bold" font-style="normal" >13</text>
<text x="463.34" y="420.82" font-size="8.3" text-anchor="start" font-weight="bold" font-style="normal" >14</text>
<text x="475.20" y="420.82" font-size="8.3" text-anchor="start" font-weight="bold" font-style="normal" >15</text>
<text x="487.06" y="420.82" font-size="8.3" text-anchor="start" font-weight="bold" font-style="normal" >16</text>
<text x="498.92" y="420.82" font-size="8.3" text-anchor="start" font-weight="bold" font-style="normal" >17</text>
<text x="510.78" y="420.82" font-size="8.3" text-anchor="start" font-weight="bold" font-style="normal" >18</text>
<line x1="297.30" y1="407.30" x2="297.30" y2="410.30" stroke="#222" stroke-width="0.9" />
<line x1="299.70" y1="407.30" x2="299.70" y2="409.10" stroke="#222" stroke-width="0.9" />
<line x1="302.09" y1="407.30" x2="302.09" y2="409.10" stroke="#222" stroke-width="0.9" />
<line x1="304.49" y1="407.30" x2="304.49" y2="409.10" stroke="#222" stroke-width="0.9" />
<line x1="306.89" y1="407.30" x2="306.89" y2="409.10" stroke="#222" stroke-width="0.9" />
<line x1="309.28" y1="407.30" x2="309.28" y2="410.30" stroke="#222" stroke-width="0.9" />
<line x1="311.68" y1="407.30" x2="311.68" y2="409.10" stroke="#222" stroke-width="0.9" />
<line x1="314.08" y1="407.30" x2="314.08" y2="409.10" stroke="#222" stroke-width="0.9" />
<line x1="316.47" y1="407.30" x2="316.47" y2="409.10" stroke="#222" stroke-width="0.9" />
<line x1="318.87" y1="407.30" x2="318.87" y2="409.10" stroke="#222" stroke-width="0.9" />
<line x1="321.27" y1="407.30" x2="321.27" y2="410.30" stroke="#222" stroke-width="0.9" />
<line x1="323.66" y1="407.30" x2="323.66" y2="409.10" stroke="#222" stroke-width="0.9" />
<line x1="326.06" y1="407.30" x2="326.06" y2="409.10" stroke="#222" stroke-width="0.9" />
<line x1="328.46" y1="407.30" x2="328.46" y2="409.10" stroke="#222" stroke-width="0.9" />
<line x1="330.85" y1="407.30" x2="330.85" y2="409.10" stroke="#222" stroke-width="0.9" />
<line x1="333.25" y1="407.30" x2="333.25" y2="410.30" stroke="#222" stroke-width="0.9" />
<line x1="335.65" y1="407.30" x2="335.65" y2="409.10" stroke="#222" stroke-width="0.9" />
<line x1="338.04" y1="407.30" x2="338.04" y2="409.10" stroke="#222" stroke-width="0.9" />
<line x1="340.44" y1="407.30" x2="340.44" y2="409.10" stroke="#222" stroke-width="0.9" />
<line x1="342.84" y1="407.30" x2="342.84" y2="409.10" stroke="#222" stroke-width="0.9" />
<line x1="345.23" y1="407.30" x2="345.23" y2="410.30" stroke="#222" stroke-width="0.9" />
<line x1="347.63" y1="407.30" x2="347.63" y2="409.10" stroke="#222" stroke-width="0.9" />
<line x1="350.03" y1="407.30" x2="350.03" y2="409.10" stroke="#222" stroke-width="0.9" />
<line x1="352.42" y1="407.30" x2="352.42" y2="409.10" stroke="#222" stroke-width="0.9" />
<line x1="354.82" y1="407.30" x2="354.82" y2="409.10" stroke="#222" stroke-width="0.9" />
<line x1="357.22" y1="407.30" x2="357.22" y2="410.30" stroke="#222" stroke-width="0.9" />
<line x1="359.61" y1="407.30" x2="359.61" y2="409.10" stroke="#222" stroke-width="0.9" />
<line x1="362.01" y1="407.30" x2="362.01" y2="409.10" stroke="#222" stroke-width="0.9" />
<line x1="364.41" y1="407.30" x2="364.41" y2="409.10" stroke="#222" stroke-width="0.9" />
<line x1="366.80" y1="407.30" x2="366.80" y2="409.10" stroke="#222" stroke-width="0.9" />
<line x1="369.20" y1="407.30" x2="369.20" y2="410.30" stroke="#222" stroke-width="0.9" />
<line x1="371.60" y1="407.30" x2="371.60" y2="409.10" stroke="#222" stroke-width="0.9" />
<line x1="373.99" y1="407.30" x2="373.99" y2="409.10" stroke="#222" stroke-width="0.9" />
<line x1="376.39" y1="407.30" x2="376.39" y2="409.10" stroke="#222" stroke-width="0.9" />
<line x1="378.79" y1="407.30" x2="378.79" y2="409.10" stroke="#222" stroke-width="0.9" />
<line x1="381.18" y1="407.30" x2="381.18" y2="410.30" stroke="#222" stroke-width="0.9" />
<line x1="383.58" y1="407.30" x2="383.58" y2="409.10" stroke="#222" stroke-width="0.9" />
<line x1="385.98" y1="407.30" x2="385.98" y2="409.10" stroke="#222" stroke-width="0.9" />
<line x1="388.37" y1="407.30" x2="388.37" y2="409.10" stroke="#222" stroke-width="0.9" />
<line x1="390.77" y1="407.30" x2="390.77" y2="409.10" stroke="#222" stroke-width="0.9" />
<line x1="393.17" y1="407.30" x2="393.17" y2="410.30" stroke="#222" stroke-width="0.9" />
<line x1="395.56" y1="407.30" x2="395.56" y2="409.10" stroke="#222" stroke-width="0.9" />
<line x1="397.96" y1="407.30" x2="397.96" y2="409.10" stroke="#222" stroke-width="0.9" />
<line x1="400.36" y1="407.30" x2="400.36" y2="409.10" stroke="#222" stroke-width="0.9" />
<line x1="402.75" y1="407.30" x2="402.75" y2="409.10" stroke="#222" stroke-width="0.9" />
<line x1="405.15" y1="407.30" x2="405.15" y2="410.30" stroke="#222" stroke-width="0.9" />
<line x1="407.55" y1="407.30" x2="407.55" y2="409.10" stroke="#222" stroke-width="0.9" />
<line x1="409.94" y1="407.30" x2="409.94" y2="409.10" stroke="#222" stroke-width="0.9" />
<line x1="412.34" y1="407.30" x2="412.34" y2="409.10" stroke="#222" stroke-width="0.9" />
<line x1="414.74" y1="407.30" x2="414.74" y2="409.10" stroke="#222" stroke-width="0.9" />
<line x1="417.13" y1="407.30" x2="417.13" y2="410.30" stroke="#222" stroke-width="0.9" />
<line x1="419.53" y1="407.30" x2="419.53" y2="409.10" stroke="#222" stroke-width="0.9" />
<line x1="421.93" y1="407.30" x2="421.93" y2="409.10" stroke="#222" stroke-width="0.9" />
<line x1="424.32" y1="407.30" x2="424.32" y2="409.10" stroke="#222" stroke-width="0.9" />
<line x1="426.72" y1="407.30" x2="426.72" y2="409.10" stroke="#222" stroke-width="0.9" />
<line x1="429.12" y1="407.30" x2="429.12" y2="410.30" stroke="#222" stroke-width="0.9" />
<line x1="431.51" y1="407.30" x2="431.51" y2="409.10" stroke="#222" stroke-width="0.9" />
<line x1="433.91" y1="407.30" x2="433.91" y2="409.10" stroke="#222" stroke-width="0.9" />
<line x1="436.31" y1="407.30" x2="436.31" y2="409.10" stroke="#222" stroke-width="0.9" />
<line x1="438.70" y1="407.30" x2="438.70" y2="409.10" stroke="#222" stroke-width="0.9" />
<line x1="441.10" y1="407.30" x2="441.10" y2="410.30" stroke="#222" stroke-width="0.9" />
<line x1="443.50" y1="407.30" x2="443.50" y2="409.10" stroke="#222" stroke-width="0.9" />
<line x1="445.89" y1="407.30" x2="445.89" y2="409.10" stroke="#222" stroke-width="0.9" />
<line x1="448.29" y1="407.30" x2="448.29" y2="409.10" stroke="#222" stroke-width="0.9" />
<line x1="450.69" y1="407.30" x2="450.69" y2="409.10" stroke="#222" stroke-width="0.9" />
<line x1="453.08" y1="407.30" x2="453.08" y2="410.30" stroke="#222" stroke-width="0.9" />
<line x1="455.48" y1="407.30" x2="455.48" y2="409.10" stroke="#222" stroke-width="0.9" />
<line x1="457.88" y1="407.30" x2="457.88" y2="409.10" stroke="#222" stroke-width="0.9" />
<line x1="460.27" y1="407.30" x2="460.27" y2="409.10" stroke="#222" stroke-width="0.9" />
<line x1="462.67" y1="407.30" x2="462.67" y2="409.10" stroke="#222" stroke-width="0.9" />
<line x1="465.07" y1="407.30" x2="465.07" y2="410.30" stroke="#222" stroke-width="0.9" />
<line x1="467.46" y1="407.30" x2="467.46" y2="409.10" stroke="#222" stroke-width="0.9" />
<line x1="469.86" y1="407.30" x2="469.86" y2="409.10" stroke="#222" stroke-width="0.9" />
<line x1="472.26" y1="407.30" x2="472.26" y2="409.10" stroke="#222" stroke-width="0.9" />
<line x1="474.65" y1="407.30" x2="474.65" y2="409.10" stroke="#222" stroke-width="0.9" />
<line x1="477.05" y1="407.30" x2="477.05" y2="410.30" stroke="#222" stroke-width="0.9" />
<line x1="479.45" y1="407.30" x2="479.45" y2="409.10" stroke="#222" stroke-width="0.9" />
<line x1="481.84" y1="407.30" x2="481.84" y2="409.10" stroke="#222" stroke-width="0.9" />
<line x1="484.24" y1="407.30" x2="484.24" y2="409.10" stroke="#222" stroke-width="0.9" />
<line x1="486.64" y1="407.30" x2="486.64" y2="409.10" stroke="#222" stroke-width="0.9" />
<line x1="489.03" y1="407.30" x2="489.03" y2="410.30" stroke="#222" stroke-width="0.9" />
<line x1="491.43" y1="407.30" x2="491.43" y2="409.10" stroke="#222" stroke-width="0.9" />
<line x1="493.83" y1="407.30" x2="493.83" y2="409.10" stroke="#222" stroke-width="0.9" />
<line x1="496.22" y1="407.30" x2="496.22" y2="409.10" stroke="#222" stroke-width="0.9" />
<line x1="498.62" y1="407.30" x2="498.62" y2="409.10" stroke="#222" stroke-width="0.9" />
<line x1="501.02" y1="407.30" x2="501.02" y2="410.30" stroke="#222" stroke-width="0.9" />
<line x1="503.41" y1="407.30" x2="503.41" y2="409.10" stroke="#222" stroke-width="0.9" />
<line x1="505.81" y1="407.30" x2="505.81" y2="409.10" stroke="#222" stroke-width="0.9" />
<line x1="508.21" y1="407.30" x2="508.21" y2="409.10" stroke="#222" stroke-width="0.9" />
<line x1="510.60" y1="407.30" x2="510.60" y2="409.10" stroke="#222" stroke-width="0.9" />
<line x1="513.00" y1="407.30" x2="513.00" y2="410.30" stroke="#222" stroke-width="0.9" />
<line x1="295.50" y1="254.30" x2="297.30" y2="254.30" stroke="#222" stroke-width="0.9" />
<line x1="295.50" y1="256.85" x2="297.30" y2="256.85" stroke="#222" stroke-width="0.9" />
<line x1="295.50" y1="259.40" x2="297.30" y2="259.40" stroke="#222" stroke-width="0.9" />
<line x1="295.50" y1="261.95" x2="297.30" y2="261.95" stroke="#222" stroke-width="0.9" />
<line x1="295.50" y1="264.50" x2="297.30" y2="264.50" stroke="#222" stroke-width="0.9" />
<line x1="295.50" y1="267.05" x2="297.30" y2="267.05" stroke="#222" stroke-width="0.9" />
<line x1="295.50" y1="269.60" x2="297.30" y2="269.60" stroke="#222" stroke-width="0.9" />
<line x1="295.50" y1="272.15" x2="297.30" y2="272.15" stroke="#222" stroke-width="0.9" />
<line x1="295.50" y1="274.70" x2="297.30" y2="274.70" stroke="#222" stroke-width="0.9" />
<line x1="295.50" y1="277.25" x2="297.30" y2="277.25" stroke="#222" stroke-width="0.9" />
<line x1="295.50" y1="279.80" x2="297.30" y2="279.80" stroke="#222" stroke-width="0.9" />
<line x1="295.50" y1="282.35" x2="297.30" y2="282.35" stroke="#222" stroke-width="0.9" />
<line x1="295.50" y1="284.90" x2="297.30" y2="284.90" stroke="#222" stroke-width="0.9" />
<line x1="295.50" y1="287.45" x2="297.30" y2="287.45" stroke="#222" stroke-width="0.9" />
<line x1="295.50" y1="290.00" x2="297.30" y2="290.00" stroke="#222" stroke-width="0.9" />
<line x1="295.50" y1="292.55" x2="297.30" y2="292.55" stroke="#222" stroke-width="0.9" />
<line x1="295.50" y1="295.10" x2="297.30" y2="295.10" stroke="#222" stroke-width="0.9" />
<line x1="295.50" y1="297.65" x2="297.30" y2="297.65" stroke="#222" stroke-width="0.9" />
<line x1="295.50" y1="300.20" x2="297.30" y2="300.20" stroke="#222" stroke-width="0.9" />
<line x1="295.50" y1="302.75" x2="297.30" y2="302.75" stroke="#222" stroke-width="0.9" />
<line x1="295.50" y1="305.30" x2="297.30" y2="305.30" stroke="#222" stroke-width="0.9" />
<line x1="295.50" y1="307.85" x2="297.30" y2="307.85" stroke="#222" stroke-width="0.9" />
<line x1="295.50" y1="310.40" x2="297.30" y2="310.40" stroke="#222" stroke-width="0.9" />
<line x1="295.50" y1="312.95" x2="297.30" y2="312.95" stroke="#222" stroke-width="0.9" />
<line x1="295.50" y1="315.50" x2="297.30" y2="315.50" stroke="#222" stroke-width="0.9" />
<line x1="295.50" y1="318.05" x2="297.30" y2="318.05" stroke="#222" stroke-width="0.9" />
<line x1="295.50" y1="320.60" x2="297.30" y2="320.60" stroke="#222" stroke-width="0.9" />
<line x1="295.50" y1="323.15" x2="297.30" y2="323.15" stroke="#222" stroke-width="0.9" />
<line x1="295.50" y1="325.70" x2="297.30" y2="325.70" stroke="#222" stroke-width="0.9" />
<line x1="295.50" y1="328.25" x2="297.30" y2="328.25" stroke="#222" stroke-width="0.9" />
<line x1="295.50" y1="330.80" x2="297.30" y2="330.80" stroke="#222" stroke-width="0.9" />
<line x1="295.50" y1="333.35" x2="297.30" y2="333.35" stroke="#222" stroke-width="0.9" />
<line x1="295.50" y1="335.90" x2="297.30" y2="335.90" stroke="#222" stroke-width="0.9" />
<line x1="295.50" y1="338.45" x2="297.30" y2="338.45" stroke="#222" stroke-width="0.9" />
<line x1="295.50" y1="341.00" x2="297.30" y2="341.00" stroke="#222" stroke-width="0.9" />
<line x1="295.50" y1="343.55" x2="297.30" y2="343.55" stroke="#222" stroke-width="0.9" />
<line x1="295.50" y1="346.10" x2="297.30" y2="346.10" stroke="#222" stroke-width="0.9" />
<line x1="295.50" y1="348.65" x2="297.30" y2="348.65" stroke="#222" stroke-width="0.9" />
<line x1="295.50" y1="351.20" x2="297.30" y2="351.20" stroke="#222" stroke-width="0.9" />
<line x1="295.50" y1="353.75" x2="297.30" y2="353.75" stroke="#222" stroke-width="0.9" />
<line x1="295.50" y1="356.30" x2="297.30" y2="356.30" stroke="#222" stroke-width="0.9" />
<line x1="295.50" y1="358.85" x2="297.30" y2="358.85" stroke="#222" stroke-width="0.9" />
<line x1="295.50" y1="361.40" x2="297.30" y2="361.40" stroke="#222" stroke-width="0.9" />
<line x1="295.50" y1="363.95" x2="297.30" y2="363.95" stroke="#222" stroke-width="0.9" />
<line x1="295.50" y1="366.50" x2="297.30" y2="366.50" stroke="#222" stroke-width="0.9" />
<line x1="295.50" y1="369.05" x2="297.30" y2="369.05" stroke="#222" stroke-width="0.9" />
<line x1="295.50" y1="371.60" x2="297.30" y2="371.60" stroke="#222" stroke-width="0.9" />
<line x1="295.50" y1="374.15" x2="297.30" y2="374.15" stroke="#222" stroke-width="0.9" />
<line x1="295.50" y1="376.70" x2="297.30" y2="376.70" stroke="#222" stroke-width="0.9" />
<line x1="295.50" y1="379.25" x2="297.30" y2="379.25" stroke="#222" stroke-width="0.9" />
<line x1="295.50" y1="381.80" x2="297.30" y2="381.80" stroke="#222" stroke-width="0.9" />
<line x1="295.50" y1="384.35" x2="297.30" y2="384.35" stroke="#222" stroke-width="0.9" />
<line x1="295.50" y1="386.90" x2="297.30" y2="386.90" stroke="#222" stroke-width="0.9" />
<line x1="295.50" y1="389.45" x2="297.30" y2="389.45" stroke="#222" stroke-width="0.9" />
<line x1="295.50" y1="392.00" x2="297.30" y2="392.00" stroke="#222" stroke-width="0.9" />
<line x1="295.50" y1="394.55" x2="297.30" y2="394.55" stroke="#222" stroke-width="0.9" />
<line x1="295.50" y1="397.10" x2="297.30" y2="397.10" stroke="#222" stroke-width="0.9" />
<line x1="295.50" y1="399.65" x2="297.30" y2="399.65" stroke="#222" stroke-width="0.9" />
<line x1="295.50" y1="402.20" x2="297.30" y2="402.20" stroke="#222" stroke-width="0.9" />
<line x1="295.50" y1="404.75" x2="297.30" y2="404.75" stroke="#222" stroke-width="0.9" />
<line x1="295.50" y1="407.30" x2="297.30" y2="407.30" stroke="#222" stroke-width="0.9" />
<text x="398.13" y="432.10" font-size="8.7" text-anchor="start" font-weight="bold" font-style="normal" >Years</text>
<text x="0" y="0" font-size="8.7" font-weight="bold" text-anchor="middle" transform="translate(280.60,337.70) rotate(-90)">Overall Survival (%)</text>
<text x="449.60" y="292.50" font-size="10.4" font-weight="bold"><tspan font-style="italic">P</tspan><tspan dx="1.3">=</tspan><tspan dx="0.5">.</tspan><tspan dx="0.5">78</tspan></text>
<polyline points="25.50,29.50 26.25,29.50 26.25,30.50 27.00,30.50 28.00,30.50 28.00,33.00 29.00,33.00 31.00,36.50 33.00,40.50 34.25,40.50 34.25,44.00 35.50,44.00 36.75,44.00 36.75,45.50 38.00,45.50 39.95,45.50 39.95,47.40 41.90,47.40 42.70,47.40 42.70,49.00 43.50,49.00 44.15,49.00 44.15,50.80 44.80,50.80 47.10,55.40 48.80,58.30 50.40,58.30 50.40,60.50 52.00,60.50 53.33,60.50 53.33,62.25 55.97,62.25 55.97,64.00 57.30,64.00 58.65,64.00 58.65,65.00 60.00,65.00 63.80,65.60 65.15,65.60 65.15,68.50 66.50,68.50 67.95,68.50 67.95,71.20 69.40,71.20 70.45,71.20 70.45,73.00 71.50,73.00 72.50,73.00 72.50,75.30 73.50,75.30 74.75,75.30 74.75,77.80 76.00,77.80 77.50,77.80 77.50,80.00 79.00,80.00 80.80,80.00 80.80,84.40 82.60,84.40 84.00,85.00 85.25,85.00 85.25,85.50 87.75,85.50 87.75,86.00 89.00,86.00 90.25,86.00 90.25,88.50 91.50,88.50 92.88,88.50 92.88,88.75 95.62,88.75 95.62,89.00 98.38,89.00 98.38,89.25 101.12,89.25 101.12,89.50 102.50,89.50 104.15,89.50 104.15,93.50 105.80,93.50 107.00,93.50 107.00,94.10 109.40,94.10 109.40,94.70 110.60,94.70 113.00,95.50 114.50,95.50 114.50,100.00 116.00,100.00 117.13,100.00 117.13,101.13 119.40,101.13 119.40,102.27 121.67,102.27 121.67,103.40 122.80,103.40 133.90,103.90 133.90,106.30 142.90,106.30 142.90,110.10 143.95,110.10 143.95,112.90 145.00,112.90 153.30,112.90 153.30,118.80 236.30,118.80" fill="none" stroke="#000" stroke-width="1.7" />
<line x1="37.50" y1="42.48" x2="37.50" y2="50.68" stroke="#333" stroke-width="1.0" />
<line x1="42.50" y1="45.40" x2="42.50" y2="53.60" stroke="#333" stroke-width="1.0" />
<line x1="45.50" y1="49.40" x2="45.50" y2="57.60" stroke="#333" stroke-width="1.0" />
<line x1="50.50" y1="56.52" x2="50.50" y2="64.72" stroke="#333" stroke-width="1.0" />
<line x1="56.50" y1="61.14" x2="56.50" y2="69.34" stroke="#333" stroke-width="1.0" />
<line x1="62.50" y1="62.73" x2="62.50" y2="70.93" stroke="#333" stroke-width="1.0" />
<line x1="64.50" y1="64.29" x2="64.50" y2="72.49" stroke="#333" stroke-width="1.0" />
<line x1="67.50" y1="67.20" x2="67.50" y2="75.40" stroke="#333" stroke-width="1.0" />
<line x1="72.50" y1="71.89" x2="72.50" y2="80.09" stroke="#333" stroke-width="1.0" />
<line x1="76.50" y1="75.35" x2="76.50" y2="83.55" stroke="#333" stroke-width="1.0" />
<line x1="82.50" y1="81.97" x2="82.50" y2="90.17" stroke="#333" stroke-width="1.0" />
<line x1="88.50" y1="83.40" x2="88.50" y2="91.60" stroke="#333" stroke-width="1.0" />
<line x1="90.50" y1="85.40" x2="90.50" y2="93.60" stroke="#333" stroke-width="1.0" />
<line x1="95.50" y1="86.23" x2="95.50" y2="94.43" stroke="#333" stroke-width="1.0" />
<line x1="98.50" y1="86.52" x2="98.50" y2="94.72" stroke="#333" stroke-width="1.0" />
<line x1="103.50" y1="87.87" x2="103.50" y2="96.07" stroke="#333" stroke-width="1.0" />
<line x1="108.50" y1="91.48" x2="108.50" y2="99.67" stroke="#333" stroke-width="1.0" />
<line x1="113.50" y1="93.80" x2="113.50" y2="102.00" stroke="#333" stroke-width="1.0" />
<line x1="115.50" y1="96.95" x2="115.50" y2="105.15" stroke="#333" stroke-width="1.0" />
<line x1="124.50" y1="100.89" x2="124.50" y2="109.09" stroke="#333" stroke-width="1.0" />
<line x1="126.50" y1="100.98" x2="126.50" y2="109.18" stroke="#333" stroke-width="1.0" />
<line x1="128.50" y1="101.08" x2="128.50" y2="109.28" stroke="#333" stroke-width="1.0" />
<line x1="131.50" y1="101.21" x2="131.50" y2="109.41" stroke="#333" stroke-width="1.0" />
<line x1="139.50" y1="103.70" x2="139.50" y2="111.90" stroke="#333" stroke-width="1.0" />
<line x1="142.50" y1="103.70" x2="142.50" y2="111.90" stroke="#333" stroke-width="1.0" />
<line x1="145.50" y1="110.30" x2="145.50" y2="118.50" stroke="#333" stroke-width="1.0" />
<line x1="148.50" y1="110.30" x2="148.50" y2="118.50" stroke="#333" stroke-width="1.0" />
<line x1="155.50" y1="116.20" x2="155.50" y2="124.40" stroke="#333" stroke-width="1.0" />
<line x1="158.50" y1="116.20" x2="158.50" y2="124.40" stroke="#333" stroke-width="1.0" />
<line x1="163.50" y1="116.20" x2="163.50" y2="124.40" stroke="#333" stroke-width="1.0" />
<line x1="174.50" y1="116.20" x2="174.50" y2="124.40" stroke="#333" stroke-width="1.0" />
<line x1="189.50" y1="116.20" x2="189.50" y2="124.40" stroke="#333" stroke-width="1.0" />
<line x1="203.50" y1="116.20" x2="203.50" y2="124.40" stroke="#333" stroke-width="1.0" />
<line x1="236.50" y1="116.20" x2="236.50" y2="124.40" stroke="#333" stroke-width="1.0" />
<polyline points="25.50,29.50 27.50,33.00 28.60,37.50 30.40,46.80 32.10,54.90 34.00,60.60 34.75,60.60 34.75,63.00 35.50,63.00 38.10,69.00 39.80,69.00 39.80,73.90 41.50,73.90 44.40,79.00 45.00,79.00 45.00,80.80 45.60,80.80 46.85,80.80 46.85,81.37 49.35,81.37 49.35,81.93 51.85,81.93 51.85,82.50 53.10,82.50 54.85,82.50 54.85,84.20 56.60,84.20 58.30,84.20 58.30,88.10 60.00,88.10 61.33,88.10 61.33,89.10 63.97,89.10 63.97,90.10 65.30,90.10 66.47,90.10 66.47,90.80 68.83,90.80 68.83,91.50 70.00,91.50 71.03,91.50 71.03,92.80 73.07,92.80 73.07,94.10 74.10,94.10 75.75,94.10 75.75,96.20 77.40,96.20 79.00,96.20 79.00,99.00 80.60,99.00 89.50,99.80 91.90,104.20 92.60,104.20 92.60,106.00 93.30,106.00 100.00,106.20 101.60,109.90 106.00,110.20 112.00,110.80 115.70,116.80 117.30,116.80 117.30,121.70 118.90,121.70 120.85,121.70 120.85,124.00 122.80,124.00 124.07,124.00 124.07,124.90 126.60,124.90 126.60,125.80 129.13,125.80 129.13,126.70 130.40,126.70 131.10,130.90 162.80,131.00 162.80,155.20 212.10,155.20" fill="none" stroke="#000" stroke-width="1.5" stroke-dasharray="1.5 1.7"/>
<line x1="44.50" y1="77.30" x2="44.50" y2="85.50" stroke="#333" stroke-width="1.0" />
<line x1="48.50" y1="78.86" x2="48.50" y2="87.06" stroke="#333" stroke-width="1.0" />
<line x1="57.50" y1="82.17" x2="57.50" y2="90.37" stroke="#333" stroke-width="1.0" />
<line x1="68.50" y1="88.33" x2="68.50" y2="96.53" stroke="#333" stroke-width="1.0" />
<line x1="71.50" y1="89.85" x2="71.50" y2="98.05" stroke="#333" stroke-width="1.0" />
<line x1="72.50" y1="90.80" x2="72.50" y2="99.00" stroke="#333" stroke-width="1.0" />
<line x1="74.50" y1="92.07" x2="74.50" y2="100.27" stroke="#333" stroke-width="1.0" />
<line x1="86.50" y1="96.90" x2="86.50" y2="105.10" stroke="#333" stroke-width="1.0" />
<line x1="89.50" y1="97.20" x2="89.50" y2="105.40" stroke="#333" stroke-width="1.0" />
<line x1="93.50" y1="103.14" x2="93.50" y2="111.34" stroke="#333" stroke-width="1.0" />
<line x1="96.50" y1="103.49" x2="96.50" y2="111.69" stroke="#333" stroke-width="1.0" />
<line x1="99.50" y1="103.59" x2="99.50" y2="111.79" stroke="#333" stroke-width="1.0" />
<line x1="108.50" y1="107.80" x2="108.50" y2="116.00" stroke="#333" stroke-width="1.0" />
<line x1="110.50" y1="108.00" x2="110.50" y2="116.20" stroke="#333" stroke-width="1.0" />
<line x1="123.50" y1="121.65" x2="123.50" y2="129.85" stroke="#333" stroke-width="1.0" />
<line x1="127.50" y1="123.11" x2="127.50" y2="131.31" stroke="#333" stroke-width="1.0" />
<line x1="133.50" y1="128.31" x2="133.50" y2="136.51" stroke="#333" stroke-width="1.0" />
<line x1="137.50" y1="128.32" x2="137.50" y2="136.52" stroke="#333" stroke-width="1.0" />
<line x1="140.50" y1="128.33" x2="140.50" y2="136.53" stroke="#333" stroke-width="1.0" />
<line x1="144.50" y1="128.34" x2="144.50" y2="136.54" stroke="#333" stroke-width="1.0" />
<line x1="212.50" y1="152.60" x2="212.50" y2="160.80" stroke="#333" stroke-width="1.0" />
<polyline points="297.50,26.30 300.60,32.10 303.50,37.90 304.35,37.90 304.35,40.20 305.20,40.20 306.38,40.20 306.38,41.35 308.72,41.35 308.72,42.50 309.90,42.50 311.05,42.50 311.05,44.20 313.35,44.20 313.35,45.90 314.50,45.90 315.95,45.90 315.95,50.00 317.40,50.00 319.10,52.90 320.25,52.90 320.25,54.35 322.55,54.35 322.55,55.80 323.70,55.80 325.45,55.80 325.45,57.50 327.20,57.50 328.35,57.50 328.35,61.00 329.50,61.00 330.50,61.00 330.50,61.75 332.50,61.75 332.50,62.50 333.50,62.50 334.80,62.50 334.80,64.25 337.40,64.25 337.40,66.00 338.70,66.00 340.15,66.00 340.15,67.95 343.05,67.95 343.05,69.90 344.50,69.90 345.73,69.90 345.73,71.90 348.17,71.90 348.17,73.90 349.40,73.90 350.60,73.90 350.60,75.95 353.00,75.95 353.00,78.00 354.20,78.00 355.60,78.00 355.60,79.50 357.00,79.50 358.32,79.50 358.32,80.35 360.98,80.35 360.98,81.20 362.30,81.20 363.90,81.20 363.90,83.60 365.50,83.60 366.85,83.60 366.85,84.13 369.55,84.13 369.55,84.67 372.25,84.67 372.25,85.20 373.60,85.20 374.83,85.20 374.83,86.85 377.27,86.85 377.27,88.50 378.50,88.50 379.90,88.50 379.90,89.30 382.70,89.30 382.70,90.10 384.10,90.10 385.12,90.10 385.12,92.50 387.18,92.50 387.18,94.90 388.20,94.90 389.38,94.90 389.38,96.55 391.72,96.55 391.72,98.20 392.90,98.20 394.34,98.20 394.34,98.55 397.21,98.55 397.21,98.90 400.09,98.90 400.09,99.25 402.96,99.25 402.96,99.60 404.40,99.60 406.30,104.70 414.50,104.70 416.00,111.40 426.10,111.40 426.10,116.80 507.90,116.80" fill="none" stroke="#000" stroke-width="1.7" />
<line x1="300.50" y1="30.30" x2="300.50" y2="38.50" stroke="#333" stroke-width="1.0" />
<line x1="306.50" y1="37.99" x2="306.50" y2="46.19" stroke="#333" stroke-width="1.0" />
<line x1="310.50" y1="39.97" x2="310.50" y2="48.17" stroke="#333" stroke-width="1.0" />
<line x1="312.50" y1="42.19" x2="312.50" y2="50.39" stroke="#333" stroke-width="1.0" />
<line x1="318.50" y1="48.42" x2="318.50" y2="56.62" stroke="#333" stroke-width="1.0" />
<line x1="320.50" y1="51.50" x2="320.50" y2="59.70" stroke="#333" stroke-width="1.0" />
<line x1="324.50" y1="53.35" x2="324.50" y2="61.55" stroke="#333" stroke-width="1.0" />
<line x1="328.50" y1="56.12" x2="328.50" y2="64.32" stroke="#333" stroke-width="1.0" />
<line x1="332.50" y1="59.71" x2="332.50" y2="67.91" stroke="#333" stroke-width="1.0" />
<line x1="336.50" y1="61.58" x2="336.50" y2="69.78" stroke="#333" stroke-width="1.0" />
<line x1="340.50" y1="64.27" x2="340.50" y2="72.47" stroke="#333" stroke-width="1.0" />
<line x1="342.50" y1="66.29" x2="342.50" y2="74.49" stroke="#333" stroke-width="1.0" />
<line x1="346.50" y1="69.34" x2="346.50" y2="77.54" stroke="#333" stroke-width="1.0" />
<line x1="352.50" y1="74.38" x2="352.50" y2="82.58" stroke="#333" stroke-width="1.0" />
<line x1="358.50" y1="77.22" x2="358.50" y2="85.42" stroke="#333" stroke-width="1.0" />
<line x1="362.50" y1="78.50" x2="362.50" y2="86.70" stroke="#333" stroke-width="1.0" />
<line x1="366.50" y1="81.10" x2="366.50" y2="89.30" stroke="#333" stroke-width="1.0" />
<line x1="368.50" y1="81.69" x2="368.50" y2="89.89" stroke="#333" stroke-width="1.0" />
<line x1="370.50" y1="82.09" x2="370.50" y2="90.29" stroke="#333" stroke-width="1.0" />
<line x1="376.50" y1="84.22" x2="376.50" y2="92.42" stroke="#333" stroke-width="1.0" />
<line x1="380.50" y1="86.61" x2="380.50" y2="94.81" stroke="#333" stroke-width="1.0" />
<line x1="384.50" y1="88.55" x2="384.50" y2="96.75" stroke="#333" stroke-width="1.0" />
<line x1="388.50" y1="92.86" x2="388.50" y2="101.06" stroke="#333" stroke-width="1.0" />
<line x1="392.50" y1="94.97" x2="392.50" y2="103.17" stroke="#333" stroke-width="1.0" />
<line x1="394.50" y1="95.86" x2="394.50" y2="104.06" stroke="#333" stroke-width="1.0" />
<line x1="396.50" y1="96.10" x2="396.50" y2="104.30" stroke="#333" stroke-width="1.0" />
<line x1="400.50" y1="96.46" x2="400.50" y2="104.66" stroke="#333" stroke-width="1.0" />
<line x1="402.50" y1="96.83" x2="402.50" y2="105.03" stroke="#333" stroke-width="1.0" />
<line x1="410.50" y1="102.10" x2="410.50" y2="110.30" stroke="#333" stroke-width="1.0" />
<line x1="412.50" y1="102.10" x2="412.50" y2="110.30" stroke="#333" stroke-width="1.0" />
<line x1="418.50" y1="108.80" x2="418.50" y2="117.00" stroke="#333" stroke-width="1.0" />
<line x1="420.50" y1="108.80" x2="420.50" y2="117.00" stroke="#333" stroke-width="1.0" />
<line x1="427.50" y1="114.20" x2="427.50" y2="122.40" stroke="#333" stroke-width="1.0" />
<line x1="430.50" y1="114.20" x2="430.50" y2="122.40" stroke="#333" stroke-width="1.0" />
<line x1="436.50" y1="114.20" x2="436.50" y2="122.40" stroke="#333" stroke-width="1.0" />
<line x1="446.50" y1="114.20" x2="446.50" y2="122.40" stroke="#333" stroke-width="1.0" />
<line x1="461.50" y1="114.20" x2="461.50" y2="122.40" stroke="#333" stroke-width="1.0" />
<line x1="475.50" y1="114.20" x2="475.50" y2="122.40" stroke="#333" stroke-width="1.0" />
<line x1="507.50" y1="114.20" x2="507.50" y2="122.40" stroke="#333" stroke-width="1.0" />
<polyline points="297.50,26.30 300.90,39.70 303.30,47.80 305.70,55.10 308.10,62.40 309.45,62.40 309.45,66.70 310.80,66.70 311.75,66.70 311.75,69.60 312.70,69.60 314.60,69.60 314.60,70.60 316.50,70.60 320.90,71.10 322.55,71.10 322.55,73.50 324.20,73.50 325.18,73.50 325.18,74.20 327.12,74.20 327.12,74.90 328.10,74.90 329.55,74.90 329.55,78.80 331.00,78.80 339.60,79.20 340.80,79.20 340.80,82.10 342.00,82.10 343.57,82.10 343.57,82.85 346.73,82.85 346.73,83.60 348.30,83.60 349.50,83.60 349.50,84.05 351.90,84.05 351.90,84.50 353.10,84.50 354.30,85.70 355.80,89.00 387.00,89.00 388.32,89.00 388.32,90.00 390.98,90.00 390.98,91.00 392.30,91.00 393.80,97.30 436.90,97.20 436.90,132.70 484.20,132.70" fill="none" stroke="#000" stroke-width="1.5" stroke-dasharray="1.5 1.7"/>
<line x1="302.50" y1="44.19" x2="302.50" y2="52.39" stroke="#333" stroke-width="1.0" />
<line x1="312.50" y1="67.00" x2="312.50" y2="75.20" stroke="#333" stroke-width="1.0" />
<line x1="320.50" y1="68.50" x2="320.50" y2="76.70" stroke="#333" stroke-width="1.0" />
<line x1="328.50" y1="72.30" x2="328.50" y2="80.50" stroke="#333" stroke-width="1.0" />
<line x1="339.50" y1="76.60" x2="339.50" y2="84.80" stroke="#333" stroke-width="1.0" />
<line x1="358.50" y1="86.40" x2="358.50" y2="94.60" stroke="#333" stroke-width="1.0" />
<line x1="361.50" y1="86.40" x2="361.50" y2="94.60" stroke="#333" stroke-width="1.0" />
<line x1="368.50" y1="86.40" x2="368.50" y2="94.60" stroke="#333" stroke-width="1.0" />
<line x1="373.50" y1="86.40" x2="373.50" y2="94.60" stroke="#333" stroke-width="1.0" />
<line x1="380.50" y1="86.40" x2="380.50" y2="94.60" stroke="#333" stroke-width="1.0" />
<line x1="396.50" y1="94.69" x2="396.50" y2="102.89" stroke="#333" stroke-width="1.0" />
<line x1="400.50" y1="94.69" x2="400.50" y2="102.89" stroke="#333" stroke-width="1.0" />
<line x1="404.50" y1="94.67" x2="404.50" y2="102.87" stroke="#333" stroke-width="1.0" />
<line x1="408.50" y1="94.66" x2="408.50" y2="102.86" stroke="#333" stroke-width="1.0" />
<line x1="412.50" y1="94.66" x2="412.50" y2="102.86" stroke="#333" stroke-width="1.0" />
<line x1="416.50" y1="94.65" x2="416.50" y2="102.85" stroke="#333" stroke-width="1.0" />
<line x1="484.50" y1="130.10" x2="484.50" y2="138.30" stroke="#333" stroke-width="1.0" />
<polyline points="297.50,26.30 300.50,33.00 300.50,45.00 303.00,45.50 304.50,50.00 304.50,56.00 308.50,56.50 309.70,61.00 309.70,67.00 312.50,67.50 313.40,74.00 315.00,75.80 315.80,87.60 333.10,87.60 333.10,95.30 347.30,95.30 347.30,104.50 364.60,104.50 364.60,115.60 374.00,115.60 374.00,126.20 389.50,126.20 389.50,140.50 406.20,140.50" fill="none" stroke="#000" stroke-width="1.8" stroke-dasharray="5.5 4.5"/>
<line x1="316.50" y1="85.00" x2="316.50" y2="93.20" stroke="#333" stroke-width="1.0" />
<line x1="340.50" y1="92.70" x2="340.50" y2="100.90" stroke="#333" stroke-width="1.0" />
<line x1="346.50" y1="92.70" x2="346.50" y2="100.90" stroke="#333" stroke-width="1.0" />
<line x1="378.50" y1="123.60" x2="378.50" y2="131.80" stroke="#333" stroke-width="1.0" />
<line x1="394.50" y1="137.90" x2="394.50" y2="146.10" stroke="#333" stroke-width="1.0" />
<line x1="406.50" y1="137.90" x2="406.50" y2="146.10" stroke="#333" stroke-width="1.0" />
<polyline points="24.70,257.90 26.15,257.90 26.15,260.80 27.60,260.80 28.80,264.20 31.70,268.90 33.40,272.90 34.55,272.90 34.55,274.60 35.70,274.60 36.85,274.60 36.85,276.05 39.15,276.05 39.15,277.50 40.30,277.50 41.45,277.50 41.45,281.00 42.60,281.00 44.05,281.00 44.05,285.00 45.50,285.00 46.95,285.00 46.95,287.90 48.40,287.90 50.15,287.90 50.15,290.20 51.90,290.20 53.60,290.20 53.60,291.40 55.30,291.40 57.30,295.40 61.30,295.40 62.75,295.40 62.75,296.50 64.20,296.50 65.35,296.50 65.35,298.25 67.65,298.25 67.65,300.00 68.80,300.00 70.55,300.00 70.55,302.30 72.30,302.30 73.45,302.30 73.45,303.45 75.75,303.45 75.75,304.60 76.90,304.60 78.35,304.60 78.35,308.10 79.80,308.10 81.10,308.10 81.10,309.55 83.70,309.55 83.70,311.00 85.00,311.00 86.55,311.00 86.55,313.20 89.65,313.20 89.65,315.40 91.20,315.40 98.80,315.40 99.97,315.40 99.97,317.30 102.33,317.30 102.33,319.20 103.50,319.20 104.65,319.20 104.65,319.40 106.95,319.40 106.95,319.60 109.25,319.60 109.25,319.80 111.55,319.80 111.55,320.00 112.70,320.00 115.80,325.40 117.15,325.40 117.15,328.45 119.85,328.45 119.85,331.50 121.20,331.50 122.60,331.50 122.60,332.03 125.40,332.03 125.40,332.57 128.20,332.57 128.20,333.10 129.60,333.10 130.75,333.10 130.75,334.75 133.05,334.75 133.05,336.40 134.20,336.40 141.90,336.40 144.20,341.80 151.90,341.80 154.20,346.00 163.20,346.00 163.20,355.20 234.60,355.20" fill="none" stroke="#000" stroke-width="1.7" />
<line x1="36.50" y1="272.76" x2="36.50" y2="280.96" stroke="#333" stroke-width="1.0" />
<line x1="42.50" y1="278.40" x2="42.50" y2="286.60" stroke="#333" stroke-width="1.0" />
<line x1="44.50" y1="280.88" x2="44.50" y2="289.08" stroke="#333" stroke-width="1.0" />
<line x1="48.50" y1="285.69" x2="48.50" y2="293.89" stroke="#333" stroke-width="1.0" />
<line x1="56.50" y1="291.60" x2="56.50" y2="299.80" stroke="#333" stroke-width="1.0" />
<line x1="62.50" y1="293.26" x2="62.50" y2="301.46" stroke="#333" stroke-width="1.0" />
<line x1="64.50" y1="294.36" x2="64.50" y2="302.56" stroke="#333" stroke-width="1.0" />
<line x1="66.50" y1="295.65" x2="66.50" y2="303.85" stroke="#333" stroke-width="1.0" />
<line x1="68.50" y1="297.02" x2="68.50" y2="305.22" stroke="#333" stroke-width="1.0" />
<line x1="71.50" y1="299.31" x2="71.50" y2="307.51" stroke="#333" stroke-width="1.0" />
<line x1="73.50" y1="300.30" x2="73.50" y2="308.50" stroke="#333" stroke-width="1.0" />
<line x1="76.50" y1="301.70" x2="76.50" y2="309.90" stroke="#333" stroke-width="1.0" />
<line x1="80.50" y1="306.17" x2="80.50" y2="314.37" stroke="#333" stroke-width="1.0" />
<line x1="86.50" y1="309.18" x2="86.50" y2="317.38" stroke="#333" stroke-width="1.0" />
<line x1="89.50" y1="311.66" x2="89.50" y2="319.86" stroke="#333" stroke-width="1.0" />
<line x1="94.50" y1="312.80" x2="94.50" y2="321.00" stroke="#333" stroke-width="1.0" />
<line x1="96.50" y1="312.80" x2="96.50" y2="321.00" stroke="#333" stroke-width="1.0" />
<line x1="98.50" y1="312.80" x2="98.50" y2="321.00" stroke="#333" stroke-width="1.0" />
<line x1="103.50" y1="316.52" x2="103.50" y2="324.72" stroke="#333" stroke-width="1.0" />
<line x1="108.50" y1="317.00" x2="108.50" y2="325.20" stroke="#333" stroke-width="1.0" />
<line x1="113.50" y1="318.27" x2="113.50" y2="326.47" stroke="#333" stroke-width="1.0" />
<line x1="116.50" y1="324.16" x2="116.50" y2="332.36" stroke="#333" stroke-width="1.0" />
<line x1="120.50" y1="327.54" x2="120.50" y2="335.74" stroke="#333" stroke-width="1.0" />
<line x1="123.50" y1="329.41" x2="123.50" y2="337.61" stroke="#333" stroke-width="1.0" />
<line x1="128.50" y1="330.20" x2="128.50" y2="338.40" stroke="#333" stroke-width="1.0" />
<line x1="135.50" y1="333.80" x2="135.50" y2="342.00" stroke="#333" stroke-width="1.0" />
<line x1="138.50" y1="333.80" x2="138.50" y2="342.00" stroke="#333" stroke-width="1.0" />
<line x1="141.50" y1="333.80" x2="141.50" y2="342.00" stroke="#333" stroke-width="1.0" />
<line x1="145.50" y1="339.20" x2="145.50" y2="347.40" stroke="#333" stroke-width="1.0" />
<line x1="147.50" y1="339.20" x2="147.50" y2="347.40" stroke="#333" stroke-width="1.0" />
<line x1="154.50" y1="343.40" x2="154.50" y2="351.60" stroke="#333" stroke-width="1.0" />
<line x1="157.50" y1="343.40" x2="157.50" y2="351.60" stroke="#333" stroke-width="1.0" />
<line x1="162.50" y1="343.40" x2="162.50" y2="351.60" stroke="#333" stroke-width="1.0" />
<line x1="173.50" y1="352.60" x2="173.50" y2="360.80" stroke="#333" stroke-width="1.0" />
<line x1="188.50" y1="352.60" x2="188.50" y2="360.80" stroke="#333" stroke-width="1.0" />
<line x1="203.50" y1="352.60" x2="203.50" y2="360.80" stroke="#333" stroke-width="1.0" />
<line x1="211.50" y1="352.60" x2="211.50" y2="360.80" stroke="#333" stroke-width="1.0" />
<line x1="234.50" y1="352.60" x2="234.50" y2="360.80" stroke="#333" stroke-width="1.0" />
<polyline points="24.70,257.90 26.50,267.70 28.20,273.50 29.90,281.00 31.70,288.50 33.50,296.00 35.10,301.50 36.90,308.50 38.65,308.50 38.65,313.60 40.40,313.60 41.55,313.60 41.55,315.40 42.70,315.40 44.30,322.20 56.50,322.50 57.40,322.50 57.40,324.00 58.30,324.00 59.40,326.30 66.90,326.30 68.10,329.20 69.50,329.20 69.50,331.00 70.90,331.00 71.93,331.00 71.93,332.40 73.97,332.40 73.97,333.80 75.00,333.80 76.70,333.80 76.70,337.30 78.40,337.30 80.50,343.00 90.20,343.00 90.90,348.50 99.90,348.50 100.60,351.30 101.30,355.40 102.56,355.40 102.56,355.60 105.09,355.60 105.09,355.80 107.61,355.80 107.61,356.00 110.14,356.00 110.14,356.20 111.40,356.20 112.43,356.20 112.43,357.25 114.47,357.25 114.47,358.30 115.50,358.30 115.50,364.90 143.30,364.90" fill="none" stroke="#000" stroke-width="1.6" stroke-dasharray="1.5 1.7"/>
<line x1="27.50" y1="268.51" x2="27.50" y2="276.71" stroke="#333" stroke-width="1.0" />
<line x1="44.50" y1="319.62" x2="44.50" y2="327.82" stroke="#333" stroke-width="1.0" />
<line x1="46.50" y1="319.67" x2="46.50" y2="327.87" stroke="#333" stroke-width="1.0" />
<line x1="56.50" y1="319.90" x2="56.50" y2="328.10" stroke="#333" stroke-width="1.0" />
<line x1="67.50" y1="325.15" x2="67.50" y2="333.35" stroke="#333" stroke-width="1.0" />
<line x1="72.50" y1="329.63" x2="72.50" y2="337.83" stroke="#333" stroke-width="1.0" />
<line x1="73.50" y1="330.38" x2="73.50" y2="338.58" stroke="#333" stroke-width="1.0" />
<line x1="75.50" y1="331.82" x2="75.50" y2="340.02" stroke="#333" stroke-width="1.0" />
<line x1="77.50" y1="333.57" x2="77.50" y2="341.77" stroke="#333" stroke-width="1.0" />
<line x1="76.50" y1="332.64" x2="76.50" y2="340.84" stroke="#333" stroke-width="1.0" />
<line x1="100.50" y1="348.70" x2="100.50" y2="356.90" stroke="#333" stroke-width="1.0" />
<line x1="106.50" y1="353.24" x2="106.50" y2="361.44" stroke="#333" stroke-width="1.0" />
<line x1="122.50" y1="362.30" x2="122.50" y2="370.50" stroke="#333" stroke-width="1.0" />
<line x1="133.50" y1="362.30" x2="133.50" y2="370.50" stroke="#333" stroke-width="1.0" />
<line x1="139.50" y1="362.30" x2="139.50" y2="370.50" stroke="#333" stroke-width="1.0" />
<line x1="140.50" y1="362.30" x2="140.50" y2="370.50" stroke="#333" stroke-width="1.0" />
<line x1="142.50" y1="362.30" x2="142.50" y2="370.50" stroke="#333" stroke-width="1.0" />
<line x1="311.50" y1="307.57" x2="311.50" y2="313.77" stroke="#000" stroke-width="1.0" />
<line x1="312.50" y1="309.08" x2="312.50" y2="315.80" stroke="#3a3a3a" stroke-width="1.0" />
<line x1="313.50" y1="310.59" x2="313.50" y2="316.27" stroke="#111" stroke-width="1.0" />
<line x1="314.50" y1="311.73" x2="314.50" y2="317.94" stroke="#777" stroke-width="1.0" />
<line x1="315.50" y1="312.63" x2="315.50" y2="319.34" stroke="#000" stroke-width="1.0" />
<line x1="316.50" y1="313.52" x2="316.50" y2="319.19" stroke="#222" stroke-width="1.0" />
<line x1="317.50" y1="314.41" x2="317.50" y2="320.63" stroke="#555" stroke-width="1.0" />
<line x1="318.50" y1="315.30" x2="318.50" y2="323.51" stroke="#111" stroke-width="1.0" />
<line x1="319.50" y1="316.30" x2="319.50" y2="323.47" stroke="#000" stroke-width="1.0" />
<line x1="320.50" y1="317.30" x2="320.50" y2="325.03" stroke="#3a3a3a" stroke-width="1.0" />
<line x1="321.50" y1="318.30" x2="321.50" y2="326.50" stroke="#111" stroke-width="1.0" />
<line x1="322.50" y1="319.17" x2="322.50" y2="326.33" stroke="#777" stroke-width="1.0" />
<line x1="323.50" y1="319.72" x2="323.50" y2="327.46" stroke="#000" stroke-width="1.0" />
<line x1="324.50" y1="320.27" x2="324.50" y2="328.46" stroke="#222" stroke-width="1.0" />
<line x1="325.50" y1="320.82" x2="325.50" y2="327.98" stroke="#555" stroke-width="1.0" />
<line x1="326.50" y1="321.37" x2="326.50" y2="329.12" stroke="#111" stroke-width="1.0" />
<line x1="327.50" y1="321.92" x2="327.50" y2="330.11" stroke="#000" stroke-width="1.0" />
<line x1="328.50" y1="322.47" x2="328.50" y2="329.63" stroke="#3a3a3a" stroke-width="1.0" />
<line x1="329.50" y1="323.02" x2="329.50" y2="330.78" stroke="#111" stroke-width="1.0" />
<line x1="330.50" y1="323.49" x2="330.50" y2="332.87" stroke="#777" stroke-width="1.0" />
<line x1="331.50" y1="323.86" x2="331.50" y2="332.21" stroke="#000" stroke-width="1.0" />
<line x1="332.50" y1="324.23" x2="332.50" y2="333.20" stroke="#222" stroke-width="1.0" />
<line x1="333.50" y1="324.60" x2="333.50" y2="333.97" stroke="#555" stroke-width="1.0" />
<line x1="334.50" y1="324.97" x2="334.50" y2="333.31" stroke="#111" stroke-width="1.0" />
<line x1="335.50" y1="325.33" x2="335.50" y2="334.32" stroke="#000" stroke-width="1.0" />
<line x1="336.50" y1="325.70" x2="336.50" y2="335.08" stroke="#3a3a3a" stroke-width="1.0" />
<line x1="337.50" y1="326.07" x2="337.50" y2="334.42" stroke="#111" stroke-width="1.0" />
<line x1="338.50" y1="326.44" x2="338.50" y2="335.44" stroke="#777" stroke-width="1.0" />
<line x1="339.50" y1="326.81" x2="339.50" y2="336.18" stroke="#000" stroke-width="1.0" />
<line x1="340.50" y1="327.25" x2="340.50" y2="335.59" stroke="#222" stroke-width="1.0" />
<line x1="341.50" y1="327.75" x2="341.50" y2="336.75" stroke="#555" stroke-width="1.0" />
<line x1="342.50" y1="328.25" x2="342.50" y2="337.61" stroke="#111" stroke-width="1.0" />
<line x1="343.50" y1="328.75" x2="343.50" y2="337.09" stroke="#000" stroke-width="1.0" />
<line x1="344.50" y1="329.25" x2="344.50" y2="338.26" stroke="#3a3a3a" stroke-width="1.0" />
<line x1="345.50" y1="329.75" x2="345.50" y2="339.10" stroke="#111" stroke-width="1.0" />
<line x1="346.50" y1="330.25" x2="346.50" y2="338.58" stroke="#777" stroke-width="1.0" />
<line x1="347.50" y1="330.76" x2="347.50" y2="339.78" stroke="#000" stroke-width="1.0" />
<line x1="348.50" y1="331.33" x2="348.50" y2="340.68" stroke="#222" stroke-width="1.0" />
<line x1="349.50" y1="331.91" x2="349.50" y2="340.24" stroke="#555" stroke-width="1.0" />
<line x1="350.50" y1="332.49" x2="350.50" y2="341.52" stroke="#111" stroke-width="1.0" />
<line x1="351.50" y1="333.06" x2="351.50" y2="342.40" stroke="#000" stroke-width="1.0" />
<line x1="352.50" y1="333.64" x2="352.50" y2="341.97" stroke="#3a3a3a" stroke-width="1.0" />
<line x1="353.50" y1="334.22" x2="353.50" y2="343.26" stroke="#111" stroke-width="1.0" />
<line x1="354.50" y1="334.79" x2="354.50" y2="344.13" stroke="#777" stroke-width="1.0" />
<line x1="355.50" y1="335.37" x2="355.50" y2="343.69" stroke="#000" stroke-width="1.0" />
<line x1="356.50" y1="335.95" x2="356.50" y2="345.00" stroke="#222" stroke-width="1.0" />
<line x1="357.50" y1="336.52" x2="357.50" y2="345.85" stroke="#555" stroke-width="1.0" />
<line x1="358.50" y1="337.10" x2="358.50" y2="345.42" stroke="#111" stroke-width="1.0" />
<line x1="359.50" y1="337.59" x2="359.50" y2="346.65" stroke="#000" stroke-width="1.0" />
<line x1="360.50" y1="338.09" x2="360.50" y2="347.41" stroke="#3a3a3a" stroke-width="1.0" />
<line x1="361.50" y1="338.58" x2="361.50" y2="346.90" stroke="#111" stroke-width="1.0" />
<line x1="362.50" y1="339.08" x2="362.50" y2="348.15" stroke="#777" stroke-width="1.0" />
<line x1="363.50" y1="339.57" x2="363.50" y2="348.88" stroke="#000" stroke-width="1.0" />
<line x1="364.50" y1="340.07" x2="364.50" y2="348.38" stroke="#222" stroke-width="1.0" />
<line x1="365.50" y1="340.56" x2="365.50" y2="349.64" stroke="#555" stroke-width="1.0" />
<line x1="366.50" y1="341.06" x2="366.50" y2="350.36" stroke="#111" stroke-width="1.0" />
<line x1="367.50" y1="341.55" x2="367.50" y2="349.86" stroke="#000" stroke-width="1.0" />
<line x1="368.50" y1="341.91" x2="368.50" y2="351.00" stroke="#3a3a3a" stroke-width="1.0" />
<line x1="369.50" y1="342.22" x2="369.50" y2="351.51" stroke="#111" stroke-width="1.0" />
<line x1="370.50" y1="342.52" x2="370.50" y2="350.83" stroke="#777" stroke-width="1.0" />
<line x1="371.50" y1="342.82" x2="371.50" y2="351.92" stroke="#000" stroke-width="1.0" />
<line x1="372.50" y1="343.13" x2="372.50" y2="352.41" stroke="#222" stroke-width="1.0" />
<line x1="373.50" y1="343.43" x2="373.50" y2="351.74" stroke="#555" stroke-width="1.0" />
<line x1="374.50" y1="343.73" x2="374.50" y2="352.84" stroke="#111" stroke-width="1.0" />
<line x1="375.50" y1="344.04" x2="375.50" y2="353.32" stroke="#000" stroke-width="1.0" />
<line x1="376.50" y1="344.34" x2="376.50" y2="352.65" stroke="#3a3a3a" stroke-width="1.0" />
<line x1="377.50" y1="344.64" x2="377.50" y2="353.76" stroke="#111" stroke-width="1.0" />
<line x1="378.50" y1="344.95" x2="378.50" y2="353.82" stroke="#777" stroke-width="1.0" />
<line x1="379.50" y1="345.25" x2="379.50" y2="353.15" stroke="#000" stroke-width="1.0" />
<line x1="380.50" y1="345.56" x2="380.50" y2="354.28" stroke="#222" stroke-width="1.0" />
<line x1="381.50" y1="345.87" x2="381.50" y2="354.74" stroke="#555" stroke-width="1.0" />
<line x1="382.50" y1="346.19" x2="382.50" y2="354.09" stroke="#111" stroke-width="1.0" />
<line x1="383.50" y1="346.50" x2="383.50" y2="355.24" stroke="#000" stroke-width="1.0" />
<line x1="384.50" y1="346.82" x2="384.50" y2="355.68" stroke="#3a3a3a" stroke-width="1.0" />
<line x1="385.50" y1="347.13" x2="385.50" y2="355.04" stroke="#111" stroke-width="1.0" />
<line x1="386.50" y1="347.45" x2="386.50" y2="356.19" stroke="#777" stroke-width="1.0" />
<line x1="387.50" y1="347.76" x2="387.50" y2="356.61" stroke="#000" stroke-width="1.0" />
<line x1="388.50" y1="348.08" x2="388.50" y2="355.98" stroke="#222" stroke-width="1.0" />
<line x1="389.50" y1="348.40" x2="389.50" y2="357.15" stroke="#555" stroke-width="1.0" />
<line x1="390.50" y1="348.71" x2="390.50" y2="357.55" stroke="#111" stroke-width="1.0" />
<line x1="391.50" y1="349.23" x2="391.50" y2="357.13" stroke="#000" stroke-width="1.0" />
<line x1="392.50" y1="350.06" x2="392.50" y2="358.82" stroke="#3a3a3a" stroke-width="1.0" />
<line x1="393.50" y1="350.89" x2="393.50" y2="359.72" stroke="#111" stroke-width="1.0" />
<line x1="394.50" y1="351.72" x2="394.50" y2="359.62" stroke="#777" stroke-width="1.0" />
<line x1="395.50" y1="352.03" x2="395.50" y2="360.80" stroke="#000" stroke-width="1.0" />
<line x1="396.50" y1="352.28" x2="396.50" y2="361.10" stroke="#222" stroke-width="1.0" />
<line x1="397.50" y1="352.53" x2="397.50" y2="360.43" stroke="#555" stroke-width="1.0" />
<line x1="398.50" y1="352.78" x2="398.50" y2="361.56" stroke="#111" stroke-width="1.0" />
<line x1="399.50" y1="353.04" x2="399.50" y2="361.85" stroke="#000" stroke-width="1.0" />
<line x1="400.50" y1="353.29" x2="400.50" y2="360.39" stroke="#3a3a3a" stroke-width="1.0" />
<line x1="401.50" y1="353.54" x2="401.50" y2="361.53" stroke="#111" stroke-width="1.0" />
<line x1="402.50" y1="353.79" x2="402.50" y2="361.80" stroke="#777" stroke-width="1.0" />
<line x1="403.50" y1="354.04" x2="403.50" y2="361.14" stroke="#000" stroke-width="1.0" />
<line x1="404.50" y1="354.30" x2="404.50" y2="362.30" stroke="#222" stroke-width="1.0" />
<line x1="405.50" y1="354.55" x2="405.50" y2="362.55" stroke="#555" stroke-width="1.0" />
<line x1="406.50" y1="354.73" x2="406.50" y2="361.83" stroke="#111" stroke-width="1.0" />
<line x1="407.50" y1="354.81" x2="407.50" y2="362.82" stroke="#000" stroke-width="1.0" />
<line x1="408.50" y1="354.89" x2="408.50" y2="362.88" stroke="#3a3a3a" stroke-width="1.0" />
<line x1="409.50" y1="354.97" x2="409.50" y2="362.07" stroke="#111" stroke-width="1.0" />
<line x1="410.50" y1="355.05" x2="410.50" y2="363.06" stroke="#777" stroke-width="1.0" />
<line x1="411.50" y1="355.13" x2="411.50" y2="363.11" stroke="#000" stroke-width="1.0" />
<line x1="412.50" y1="355.21" x2="412.50" y2="362.31" stroke="#222" stroke-width="1.0" />
<line x1="413.50" y1="355.29" x2="413.50" y2="363.31" stroke="#555" stroke-width="1.0" />
<line x1="414.50" y1="355.36" x2="414.50" y2="363.34" stroke="#111" stroke-width="1.0" />
<line x1="415.50" y1="355.44" x2="415.50" y2="362.54" stroke="#000" stroke-width="1.0" />
<line x1="416.50" y1="355.52" x2="416.50" y2="363.56" stroke="#3a3a3a" stroke-width="1.0" />
<line x1="417.50" y1="355.60" x2="417.50" y2="363.56" stroke="#111" stroke-width="1.0" />
<line x1="418.50" y1="355.68" x2="418.50" y2="362.78" stroke="#777" stroke-width="1.0" />
<line x1="419.50" y1="355.76" x2="419.50" y2="363.80" stroke="#000" stroke-width="1.0" />
<line x1="420.50" y1="356.00" x2="420.50" y2="363.95" stroke="#222" stroke-width="1.0" />
<polyline points="297.30,255.50 298.00,257.20 299.50,262.50 300.90,269.30 302.10,276.00 303.20,282.00 304.30,287.50 305.50,292.40 306.90,297.00 308.30,300.60 310.20,306.10 313.90,311.70 318.50,315.80 322.20,319.50 330.00,323.80 340.00,327.50 347.40,331.20 358.50,337.60 367.80,342.20 380.00,345.90 391.10,349.40 394.60,352.30 406.10,355.20 420.00,356.30" fill="none" stroke="#000" stroke-width="1.8" />
<polyline points="420.00,356.30 423.00,357.50 434.60,362.10 446.10,363.80 453.80,364.00 457.30,366.30 462.40,366.30 462.40,376.00 494.80,376.00" fill="none" stroke="#000" stroke-width="1.6" stroke-dasharray="6.5 3.5"/>
<polyline points="297.30,255.50 298.00,257.20 299.50,262.50 300.90,269.30 302.10,276.00 303.20,282.00 304.30,287.50 305.50,292.40 306.90,297.00 308.30,300.60 310.20,306.10 313.90,311.70 318.50,315.80 321.50,320.00 332.50,320.00 332.50,324.60 341.70,324.60 341.70,329.20 346.90,329.20 346.90,333.80 356.00,338.00 365.00,343.00 373.50,348.70 373.50,355.00 389.60,355.00 389.60,363.60 414.60,363.60" fill="none" stroke="#000" stroke-width="1.7" />
<line x1="317.00" y1="312.96" x2="317.00" y2="320.96" stroke="#333" stroke-width="1.0" />
<line x1="379.00" y1="353.50" x2="379.00" y2="361.50" stroke="#333" stroke-width="1.0" />
<line x1="395.20" y1="362.10" x2="395.20" y2="370.10" stroke="#333" stroke-width="1.0" />
<line x1="405.80" y1="362.10" x2="405.80" y2="370.10" stroke="#333" stroke-width="1.0" />
<line x1="412.50" y1="362.10" x2="412.50" y2="370.10" stroke="#333" stroke-width="1.0" />
<line x1="414.60" y1="362.10" x2="414.60" y2="370.10" stroke="#333" stroke-width="1.0" />
<line x1="422.50" y1="356.70" x2="422.50" y2="364.50" stroke="#333" stroke-width="1.0" />
<line x1="426.50" y1="357.89" x2="426.50" y2="365.69" stroke="#333" stroke-width="1.0" />
<line x1="430.50" y1="359.48" x2="430.50" y2="367.28" stroke="#333" stroke-width="1.0" />
<line x1="434.50" y1="361.06" x2="434.50" y2="368.86" stroke="#333" stroke-width="1.0" />
<line x1="438.50" y1="361.80" x2="438.50" y2="369.60" stroke="#333" stroke-width="1.0" />
<line x1="440.50" y1="362.25" x2="440.50" y2="370.05" stroke="#333" stroke-width="1.0" />
<line x1="444.50" y1="362.78" x2="444.50" y2="370.58" stroke="#333" stroke-width="1.0" />
<line x1="447.50" y1="363.04" x2="447.50" y2="370.84" stroke="#333" stroke-width="1.0" />
<line x1="451.50" y1="363.14" x2="451.50" y2="370.94" stroke="#333" stroke-width="1.0" />
<line x1="453.50" y1="363.19" x2="453.50" y2="370.99" stroke="#333" stroke-width="1.0" />
<line x1="458.50" y1="365.50" x2="458.50" y2="373.30" stroke="#333" stroke-width="1.0" />
<line x1="465.50" y1="375.20" x2="465.50" y2="383.00" stroke="#333" stroke-width="1.0" />
<line x1="469.50" y1="375.20" x2="469.50" y2="383.00" stroke="#333" stroke-width="1.0" />
<line x1="476.50" y1="375.20" x2="476.50" y2="383.00" stroke="#333" stroke-width="1.0" />
<line x1="480.50" y1="375.20" x2="480.50" y2="383.00" stroke="#333" stroke-width="1.0" />
<line x1="484.50" y1="375.20" x2="484.50" y2="383.00" stroke="#333" stroke-width="1.0" />
<line x1="487.50" y1="375.20" x2="487.50" y2="383.00" stroke="#333" stroke-width="1.0" />
<line x1="494.50" y1="375.20" x2="494.50" y2="383.00" stroke="#333" stroke-width="1.0" />
<line x1="31.10" y1="154.70" x2="59.60" y2="154.70" stroke="#000" stroke-width="1.8" />
<text x="63.09" y="158.00" font-size="8.7" text-anchor="start" font-weight="bold" font-style="normal" >FL</text>
<line x1="31.10" y1="167.50" x2="58.50" y2="167.50" stroke="#000" stroke-width="1.6" stroke-dasharray="1.5 1.7"/>
<text x="62.59" y="171.00" font-size="8.7" text-anchor="start" font-weight="bold" font-style="normal" >DFL</text>
<line x1="299.80" y1="145.90" x2="318.00" y2="145.90" stroke="#000" stroke-width="1.8" />
<text x="323.59" y="149.00" font-size="8.7" text-anchor="start" font-weight="bold" font-style="normal" >FL3 &#160;&lt;25% diffuse</text>
<line x1="301.20" y1="155.60" x2="318.00" y2="155.60" stroke="#000" stroke-width="1.6" stroke-dasharray="1.5 1.7"/>
<text x="323.59" y="159.10" font-size="8.7" text-anchor="start" font-weight="bold" font-style="normal" >FL3 25-75% diffuse</text>
<line x1="299.10" y1="164.40" x2="304.90" y2="164.40" stroke="#000" stroke-width="1.8" />
<line x1="310.20" y1="164.40" x2="315.90" y2="164.40" stroke="#000" stroke-width="1.8" />
<line x1="320.10" y1="164.40" x2="321.10" y2="164.40" stroke="#999" stroke-width="1.6" />
<text x="323.59" y="168.60" font-size="8.7" text-anchor="start" font-weight="bold" font-style="normal" >FL3 &#160;&gt;75% diffuse</text>
<line x1="36.90" y1="378.80" x2="65.00" y2="378.80" stroke="#000" stroke-width="1.8" />
<text x="68.09" y="383.00" font-size="8.7" text-anchor="start" font-weight="bold" font-style="normal" >FL3 &#160;&#8804;50% diffuse</text>
<line x1="36.90" y1="392.10" x2="64.00" y2="392.10" stroke="#000" stroke-width="1.6" stroke-dasharray="1.3 1.2"/>
<text x="68.09" y="396.60" font-size="8.7" text-anchor="start" font-weight="bold" font-style="normal" >FL3 &#160;&gt;50% diffuse</text>
<line x1="303.80" y1="381.90" x2="323.50" y2="381.90" stroke="#000" stroke-width="1.8" />
<text x="329.59" y="387.00" font-size="8.7" text-anchor="start" font-weight="bold" font-style="normal" >FL3 &#160;&gt;50% diffuse</text>
<line x1="301.80" y1="395.90" x2="307.60" y2="395.90" stroke="#000" stroke-width="1.8" />
<line x1="312.40" y1="395.90" x2="318.20" y2="395.90" stroke="#000" stroke-width="1.8" />
<line x1="323.30" y1="395.90" x2="324.50" y2="395.90" stroke="#666" stroke-width="1.6" />
<text x="329.11" y="400.00" font-size="8.45" text-anchor="start" font-weight="bold" font-style="normal" >DLBCL</text>
</svg>
</body></html>
